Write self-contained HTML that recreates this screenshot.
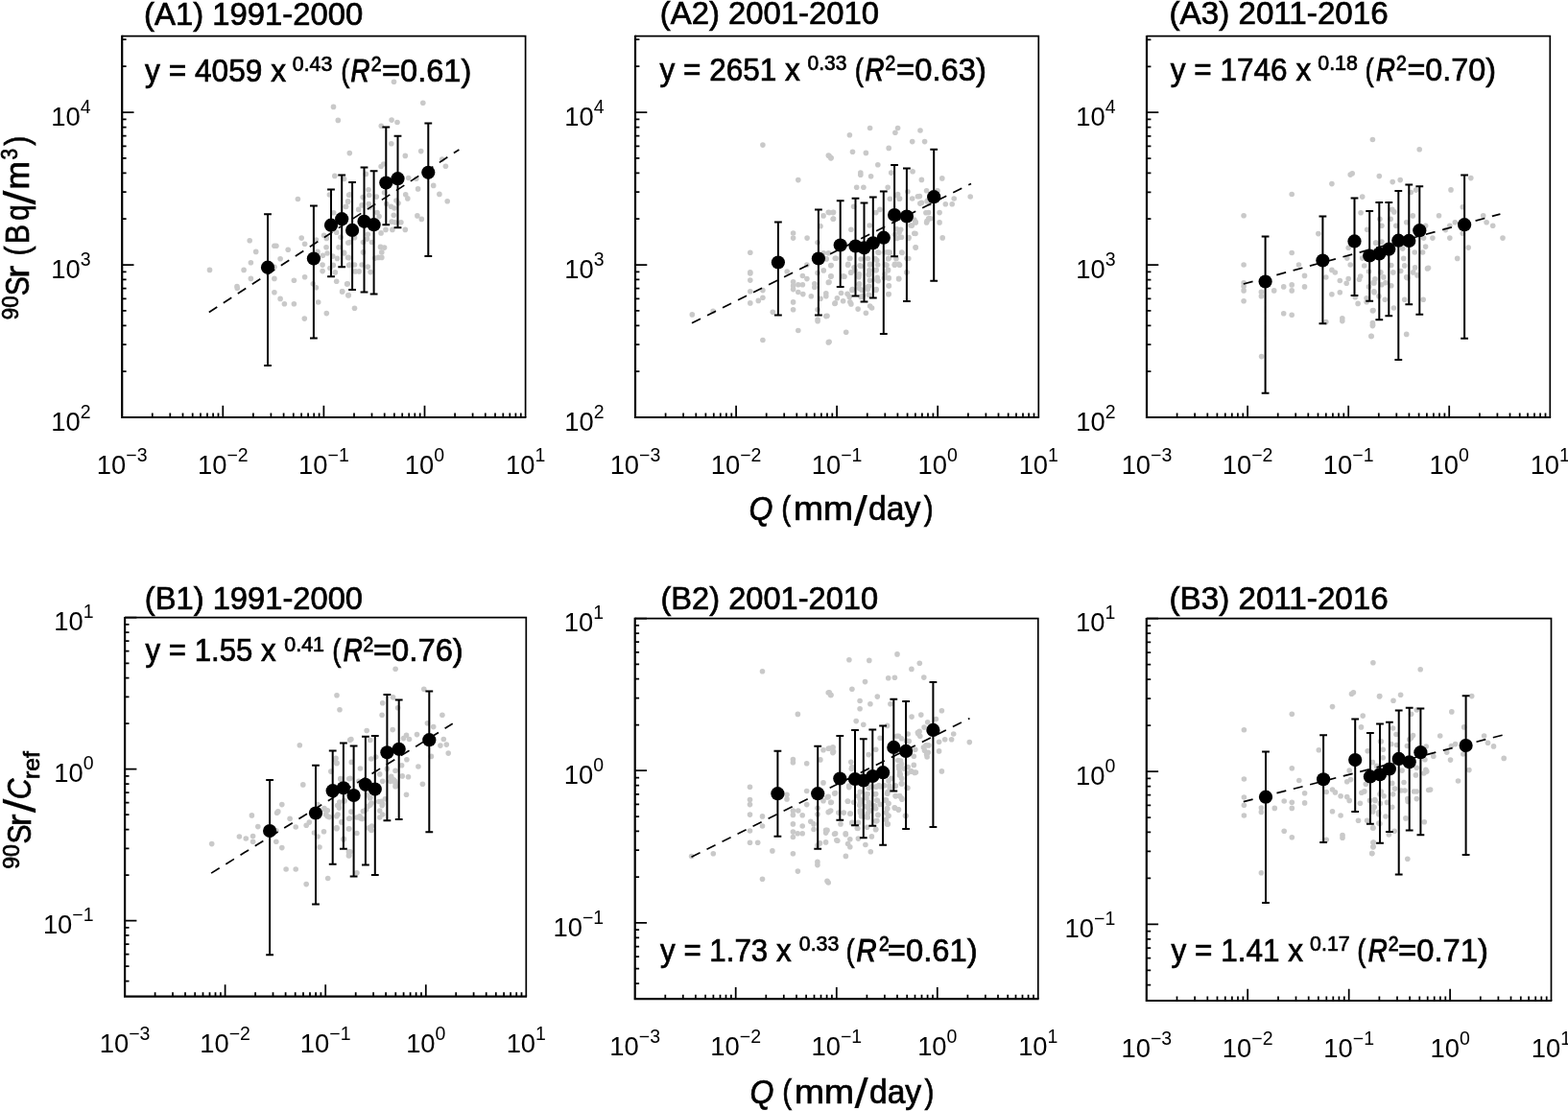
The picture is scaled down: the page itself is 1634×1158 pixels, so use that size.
<!DOCTYPE html><html><head><meta charset="utf-8"><title>Sr-90 vs Q</title><style>html,body{margin:0;padding:0;background:#fff;}svg{display:block;}</style></head><body>
<svg width="1634" height="1158" viewBox="0 0 1634 1158" font-family="'Liberation Sans', Arial, sans-serif">
<rect width="1634" height="1158" fill="#fff"/>
<g fill="#c9c9c9">
<circle cx="410.5" cy="85.3" r="2.8"/><circle cx="347.5" cy="111.4" r="2.8"/><circle cx="440.8" cy="107.3" r="2.8"/><circle cx="352.3" cy="125.4" r="2.8"/><circle cx="408.1" cy="125.1" r="2.8"/><circle cx="414" cy="127.5" r="2.8"/><circle cx="397.3" cy="131.2" r="2.8"/><circle cx="407.8" cy="149.8" r="2.8"/><circle cx="364.3" cy="159.6" r="2.8"/><circle cx="438.7" cy="157.6" r="2.8"/><circle cx="422.3" cy="162.4" r="2.8"/><circle cx="460.7" cy="166.1" r="2.8"/><circle cx="464.4" cy="173.2" r="2.8"/><circle cx="397.1" cy="173.5" r="2.8"/><circle cx="399.8" cy="171" r="2.8"/><circle cx="218.5" cy="281.4" r="2.8"/><circle cx="260.2" cy="250.8" r="2.8"/><circle cx="266.7" cy="262.4" r="2.8"/><circle cx="261.4" cy="273.8" r="2.8"/><circle cx="254.1" cy="281.4" r="2.8"/><circle cx="261.4" cy="290.4" r="2.8"/><circle cx="247" cy="298.5" r="2.8"/><circle cx="247.3" cy="300.5" r="2.8"/><circle cx="285.9" cy="256.2" r="2.8"/><circle cx="287.9" cy="256.2" r="2.8"/><circle cx="292.1" cy="269.7" r="2.8"/><circle cx="300.2" cy="260.2" r="2.8"/><circle cx="285.9" cy="278.3" r="2.8"/><circle cx="285.9" cy="290.4" r="2.8"/><circle cx="285.9" cy="304.7" r="2.8"/><circle cx="292.1" cy="311.4" r="2.8"/><circle cx="296.4" cy="316.8" r="2.8"/><circle cx="306.4" cy="316.8" r="2.8"/><circle cx="306.4" cy="292.3" r="2.8"/><circle cx="310.4" cy="207.5" r="2.8"/><circle cx="314.2" cy="248.1" r="2.8"/><circle cx="317.6" cy="254.3" r="2.8"/><circle cx="317.6" cy="288.8" r="2.8"/><circle cx="317.3" cy="332.1" r="2.8"/><circle cx="326.3" cy="295.8" r="2.8"/><circle cx="329.4" cy="299.7" r="2.8"/><circle cx="331.7" cy="315" r="2.8"/><circle cx="340.3" cy="326.6" r="2.8"/><circle cx="329.4" cy="250" r="2.8"/><circle cx="331" cy="262.4" r="2.8"/><circle cx="336.4" cy="266.3" r="2.8"/><circle cx="336.1" cy="276.1" r="2.8"/><circle cx="336.1" cy="282.6" r="2.8"/><circle cx="337.6" cy="245.3" r="2.8"/><circle cx="340.3" cy="248.4" r="2.8"/><circle cx="340" cy="257.7" r="2.8"/><circle cx="341.1" cy="264" r="2.8"/><circle cx="343.4" cy="203" r="2.8"/><circle cx="347.7" cy="221.7" r="2.8"/><circle cx="348.8" cy="183.4" r="2.8"/><circle cx="358.6" cy="186.5" r="2.8"/><circle cx="350.7" cy="242.2" r="2.8"/><circle cx="355.1" cy="247.2" r="2.8"/><circle cx="353" cy="257.7" r="2.8"/><circle cx="346.8" cy="267.1" r="2.8"/><circle cx="351.5" cy="269.4" r="2.8"/><circle cx="347.3" cy="276.4" r="2.8"/><circle cx="343.9" cy="279.5" r="2.8"/><circle cx="349.3" cy="283.9" r="2.8"/><circle cx="350.7" cy="293.2" r="2.8"/><circle cx="358.6" cy="264" r="2.8"/><circle cx="362.1" cy="295.8" r="2.8"/><circle cx="356.6" cy="303.9" r="2.8"/><circle cx="362.8" cy="307.8" r="2.8"/><circle cx="360.5" cy="215.5" r="2.8"/><circle cx="362.8" cy="210.3" r="2.8"/><circle cx="363.6" cy="203.3" r="2.8"/><circle cx="362.8" cy="253.1" r="2.8"/><circle cx="363.6" cy="268.6" r="2.8"/><circle cx="363.6" cy="276.4" r="2.8"/><circle cx="364.7" cy="202.8" r="2.8"/><circle cx="362.6" cy="209.7" r="2.8"/><circle cx="360.5" cy="215.2" r="2.8"/><circle cx="373.7" cy="218.4" r="2.8"/><circle cx="377.1" cy="213.9" r="2.8"/><circle cx="378.2" cy="205.6" r="2.8"/><circle cx="384" cy="197.7" r="2.8"/><circle cx="384.7" cy="203.5" r="2.8"/><circle cx="384.3" cy="212.5" r="2.8"/><circle cx="385.1" cy="216.2" r="2.8"/><circle cx="392.3" cy="205.1" r="2.8"/><circle cx="393" cy="221.5" r="2.8"/><circle cx="395.1" cy="225.6" r="2.8"/><circle cx="381.3" cy="181.4" r="2.8"/><circle cx="400.6" cy="200.7" r="2.8"/><circle cx="402.7" cy="212.5" r="2.8"/><circle cx="407.5" cy="215.2" r="2.8"/><circle cx="411" cy="217" r="2.8"/><circle cx="410.3" cy="224.2" r="2.8"/><circle cx="408.2" cy="231.1" r="2.8"/><circle cx="411.6" cy="231.8" r="2.8"/><circle cx="417.9" cy="231.8" r="2.8"/><circle cx="408.9" cy="239.4" r="2.8"/><circle cx="402" cy="239.4" r="2.8"/><circle cx="397.1" cy="242.9" r="2.8"/><circle cx="422.3" cy="239.4" r="2.8"/><circle cx="415.1" cy="211.8" r="2.8"/><circle cx="413" cy="209" r="2.8"/><circle cx="422.7" cy="202.8" r="2.8"/><circle cx="424.8" cy="206.9" r="2.8"/><circle cx="425.7" cy="185.5" r="2.8"/><circle cx="435.6" cy="196.9" r="2.8"/><circle cx="434.9" cy="224.9" r="2.8"/><circle cx="439.3" cy="228.4" r="2.8"/><circle cx="451.7" cy="193.4" r="2.8"/><circle cx="457.9" cy="202.4" r="2.8"/><circle cx="466.2" cy="209.7" r="2.8"/><circle cx="433.8" cy="186.2" r="2.8"/><circle cx="383.3" cy="244.2" r="2.8"/><circle cx="382.6" cy="249.1" r="2.8"/><circle cx="369.5" cy="247.7" r="2.8"/><circle cx="364.7" cy="252.5" r="2.8"/><circle cx="378.5" cy="252.5" r="2.8"/><circle cx="387.5" cy="252.5" r="2.8"/><circle cx="396.5" cy="257.4" r="2.8"/><circle cx="400.6" cy="258.1" r="2.8"/><circle cx="397.8" cy="262.9" r="2.8"/><circle cx="378.5" cy="262.9" r="2.8"/><circle cx="358.5" cy="263.3" r="2.8"/><circle cx="362.6" cy="268.4" r="2.8"/><circle cx="390.9" cy="269.1" r="2.8"/><circle cx="397.8" cy="268.4" r="2.8"/><circle cx="394.4" cy="268.4" r="2.8"/><circle cx="364.7" cy="276" r="2.8"/><circle cx="369.5" cy="276" r="2.8"/><circle cx="377.1" cy="276" r="2.8"/><circle cx="383.3" cy="278.1" r="2.8"/><circle cx="386.1" cy="283.6" r="2.8"/><circle cx="374.3" cy="282.9" r="2.8"/><circle cx="370.2" cy="282.9" r="2.8"/><circle cx="361.6" cy="296.1" r="2.8"/><circle cx="356.7" cy="303.7" r="2.8"/><circle cx="363.3" cy="307.8" r="2.8"/><circle cx="369.5" cy="321.2" r="2.8"/>
</g>
<line x1="217.8" y1="325.5" x2="478.4" y2="156" stroke="#000" stroke-width="1.7" stroke-dasharray="10.1,7.8"/>
<path d="M279 223.3V381M275.1 223.3H282.9M275.1 381H282.9M326.9 214.5V352.5M323 214.5H330.8M323 352.5H330.8M345 197.6V288.3M341.1 197.6H348.9M341.1 288.3H348.9M356.2 182.4V278.2M352.3 182.4H360.1M352.3 278.2H360.1M367.1 189.9V302M363.2 189.9H371M363.2 302H371M379.5 174.6V304.6M375.6 174.6H383.4M375.6 304.6H383.4M389.6 178.2V306.4M385.7 178.2H393.5M385.7 306.4H393.5M402.3 132.6V234.2M398.4 132.6H406.2M398.4 234.2H406.2M414.5 141.7V237.3M410.6 141.7H418.4M410.6 237.3H418.4M446.3 128.5V267.1M442.4 128.5H450.2M442.4 267.1H450.2" stroke="#000" stroke-width="2" fill="none"/>
<g fill="#000"><circle cx="279" cy="278.7" r="7.1"/><circle cx="326.9" cy="269.6" r="7.1"/><circle cx="345" cy="234.7" r="7.1"/><circle cx="356.2" cy="228.2" r="7.1"/><circle cx="367.1" cy="239.9" r="7.1"/><circle cx="379.5" cy="230.8" r="7.1"/><circle cx="389.6" cy="234.2" r="7.1"/><circle cx="402.3" cy="190.6" r="7.1"/><circle cx="414.5" cy="186.2" r="7.1"/><circle cx="446.3" cy="179.8" r="7.1"/></g>
<path d="M127.2 37.6H547.6V435" stroke="#000" stroke-width="1.7" fill="none"/>
<path d="M127.2 36.8V435H548.4" stroke="#000" stroke-width="2.2" fill="none"/>
<path d="M158.8 435v-4.4M177.3 435v-4.4M190.5 435v-4.4M200.7 435v-4.4M209 435v-4.4M216 435v-4.4M222.1 435v-4.4M227.5 435v-4.4M232.3 435v-12.3M263.9 435v-4.4M282.4 435v-4.4M295.6 435v-4.4M305.8 435v-4.4M314.1 435v-4.4M321.1 435v-4.4M327.2 435v-4.4M332.6 435v-4.4M337.4 435v-12.3M369 435v-4.4M387.5 435v-4.4M400.7 435v-4.4M410.9 435v-4.4M419.2 435v-4.4M426.2 435v-4.4M432.3 435v-4.4M437.7 435v-4.4M442.5 435v-12.3M474.1 435v-4.4M492.6 435v-4.4M505.8 435v-4.4M516 435v-4.4M524.3 435v-4.4M531.3 435v-4.4M537.4 435v-4.4M542.8 435v-4.4M127.2 387.1h4.4M127.2 359.2h4.4M127.2 339.3h4.4M127.2 323.9h4.4M127.2 311.3h4.4M127.2 300.7h4.4M127.2 291.4h4.4M127.2 283.3h4.4M127.2 276h12.3M127.2 228.2h4.4M127.2 200.2h4.4M127.2 180.3h4.4M127.2 164.9h4.4M127.2 152.3h4.4M127.2 141.7h4.4M127.2 132.5h4.4M127.2 124.4h4.4M127.2 117.1h12.3M127.2 69.2h4.4M127.2 41.2h4.4" stroke="#000" stroke-width="1.75" fill="none"/>
<text x="127.2" y="493.6" font-size="27.4" text-anchor="middle">10<tspan dy="-13" font-size="19.5">−3</tspan></text>
<text x="232.3" y="493.6" font-size="27.4" text-anchor="middle">10<tspan dy="-13" font-size="19.5">−2</tspan></text>
<text x="337.4" y="493.6" font-size="27.4" text-anchor="middle">10<tspan dy="-13" font-size="19.5">−1</tspan></text>
<text x="442.5" y="493.6" font-size="27.4" text-anchor="middle">10<tspan dy="-13" font-size="19.5">0</tspan></text>
<text x="547.6" y="493.6" font-size="27.4" text-anchor="middle">10<tspan dy="-13" font-size="19.5">1</tspan></text>
<text x="94.7" y="448.7" font-size="27.4" text-anchor="end">10<tspan dy="-13" font-size="19.5">2</tspan></text>
<text x="94.7" y="289.7" font-size="27.4" text-anchor="end">10<tspan dy="-13" font-size="19.5">3</tspan></text>
<text x="94.7" y="130.8" font-size="27.4" text-anchor="end">10<tspan dy="-13" font-size="19.5">4</tspan></text>
<g fill="#c9c9c9">
<circle cx="794.9" cy="151.1" r="2.8"/><circle cx="863.3" cy="162.1" r="2.8"/><circle cx="865.8" cy="164.8" r="2.8"/><circle cx="831.8" cy="187.6" r="2.8"/><circle cx="781.8" cy="263.3" r="2.8"/><circle cx="781.8" cy="283.8" r="2.8"/><circle cx="781.8" cy="285" r="2.8"/><circle cx="781.8" cy="292.1" r="2.8"/><circle cx="781.8" cy="303.7" r="2.8"/><circle cx="781.8" cy="315.9" r="2.8"/><circle cx="743.1" cy="324.4" r="2.8"/><circle cx="721.3" cy="327.9" r="2.8"/><circle cx="790.3" cy="313.4" r="2.8"/><circle cx="794.9" cy="310.3" r="2.8"/><circle cx="794.9" cy="302.6" r="2.8"/><circle cx="805.3" cy="325.2" r="2.8"/><circle cx="794.9" cy="354.5" r="2.8"/><circle cx="826.6" cy="243" r="2.8"/><circle cx="826.6" cy="248.1" r="2.8"/><circle cx="841.1" cy="248.1" r="2.8"/><circle cx="820.2" cy="283" r="2.8"/><circle cx="826.6" cy="293.7" r="2.8"/><circle cx="826.6" cy="297.9" r="2.8"/><circle cx="826.6" cy="301.6" r="2.8"/><circle cx="831.8" cy="296.8" r="2.8"/><circle cx="836.4" cy="296.8" r="2.8"/><circle cx="836.4" cy="287.5" r="2.8"/><circle cx="840.9" cy="290.6" r="2.8"/><circle cx="831.8" cy="304.5" r="2.8"/><circle cx="836.8" cy="306.6" r="2.8"/><circle cx="826.6" cy="314.9" r="2.8"/><circle cx="826.6" cy="322.7" r="2.8"/><circle cx="831.8" cy="344.5" r="2.8"/><circle cx="845.3" cy="308.7" r="2.8"/><circle cx="848.8" cy="295.8" r="2.8"/><circle cx="848.8" cy="299.5" r="2.8"/><circle cx="852.1" cy="252.7" r="2.8"/><circle cx="852.1" cy="284.4" r="2.8"/><circle cx="852.1" cy="322.7" r="2.8"/><circle cx="852.1" cy="333.1" r="2.8"/><circle cx="852.1" cy="334.8" r="2.8"/><circle cx="855" cy="235.7" r="2.8"/><circle cx="858.1" cy="224.9" r="2.8"/><circle cx="863.3" cy="221.2" r="2.8"/><circle cx="868.5" cy="221.2" r="2.8"/><circle cx="868.5" cy="228" r="2.8"/><circle cx="858.3" cy="263.7" r="2.8"/><circle cx="863.3" cy="263.7" r="2.8"/><circle cx="861.2" cy="269.9" r="2.8"/><circle cx="865.8" cy="276.7" r="2.8"/><circle cx="858.3" cy="281.9" r="2.8"/><circle cx="865.8" cy="288.1" r="2.8"/><circle cx="863.3" cy="294.4" r="2.8"/><circle cx="860.8" cy="305.8" r="2.8"/><circle cx="860.8" cy="308.7" r="2.8"/><circle cx="855" cy="311.3" r="2.8"/><circle cx="860.8" cy="329.6" r="2.8"/><circle cx="863.3" cy="356.9" r="2.8"/><circle cx="871.2" cy="269.3" r="2.8"/><circle cx="869.9" cy="316.5" r="2.8"/><circle cx="840.9" cy="276.1" r="2.8"/><circle cx="906.6" cy="133.5" r="2.8"/><circle cx="935.6" cy="133.5" r="2.8"/><circle cx="932.9" cy="138.2" r="2.8"/><circle cx="959" cy="136" r="2.8"/><circle cx="885.4" cy="140.7" r="2.8"/><circle cx="950.7" cy="147.6" r="2.8"/><circle cx="963.6" cy="147.6" r="2.8"/><circle cx="926.2" cy="154.4" r="2.8"/><circle cx="888.5" cy="158.3" r="2.8"/><circle cx="902.4" cy="159.4" r="2.8"/><circle cx="864.1" cy="162.5" r="2.8"/><circle cx="866.1" cy="164.6" r="2.8"/><circle cx="914.8" cy="171.8" r="2.8"/><circle cx="896.8" cy="180.1" r="2.8"/><circle cx="896.8" cy="182.2" r="2.8"/><circle cx="907.6" cy="183.8" r="2.8"/><circle cx="928.7" cy="180.1" r="2.8"/><circle cx="951.1" cy="178.7" r="2.8"/><circle cx="960.4" cy="187.4" r="2.8"/><circle cx="981.8" cy="185.9" r="2.8"/><circle cx="892.7" cy="195.2" r="2.8"/><circle cx="899.9" cy="195.2" r="2.8"/><circle cx="925.2" cy="195.2" r="2.8"/><circle cx="935.6" cy="202.5" r="2.8"/><circle cx="945.9" cy="199.8" r="2.8"/><circle cx="937.6" cy="207" r="2.8"/><circle cx="950.7" cy="207" r="2.8"/><circle cx="958.4" cy="204.6" r="2.8"/><circle cx="965.6" cy="198.8" r="2.8"/><circle cx="966.7" cy="209.1" r="2.8"/><circle cx="960.4" cy="211.2" r="2.8"/><circle cx="977" cy="198.8" r="2.8"/><circle cx="985.3" cy="212.8" r="2.8"/><circle cx="992.2" cy="212.8" r="2.8"/><circle cx="994.2" cy="207" r="2.8"/><circle cx="1011.2" cy="205" r="2.8"/><circle cx="864.1" cy="221.6" r="2.8"/><circle cx="868.2" cy="221.6" r="2.8"/><circle cx="868.2" cy="228.2" r="2.8"/><circle cx="889.6" cy="215.3" r="2.8"/><circle cx="916.9" cy="218.4" r="2.8"/><circle cx="912.8" cy="221.6" r="2.8"/><circle cx="967.7" cy="221.6" r="2.8"/><circle cx="979.1" cy="221.6" r="2.8"/><circle cx="967.7" cy="227.8" r="2.8"/><circle cx="965.6" cy="231.9" r="2.8"/><circle cx="979.1" cy="231.9" r="2.8"/><circle cx="954.2" cy="231.9" r="2.8"/><circle cx="949" cy="235" r="2.8"/><circle cx="886.9" cy="239.2" r="2.8"/><circle cx="906.1" cy="235" r="2.8"/><circle cx="938.7" cy="239.2" r="2.8"/><circle cx="932.5" cy="244.4" r="2.8"/><circle cx="937.6" cy="247.5" r="2.8"/><circle cx="947" cy="247.5" r="2.8"/><circle cx="952.8" cy="243.3" r="2.8"/><circle cx="982.2" cy="247.9" r="2.8"/><circle cx="954.2" cy="257.8" r="2.8"/><circle cx="939.7" cy="263" r="2.8"/><circle cx="944.9" cy="269.2" r="2.8"/><circle cx="927.3" cy="263" r="2.8"/><circle cx="922.1" cy="263" r="2.8"/><circle cx="914.8" cy="263" r="2.8"/><circle cx="926.2" cy="269.2" r="2.8"/><circle cx="932.5" cy="275.4" r="2.8"/><circle cx="936.6" cy="275.4" r="2.8"/><circle cx="944.9" cy="283.7" r="2.8"/><circle cx="936.6" cy="290.4" r="2.8"/><circle cx="925.2" cy="281.7" r="2.8"/><circle cx="922.1" cy="285.8" r="2.8"/><circle cx="926.2" cy="289.9" r="2.8"/><circle cx="926.2" cy="297.8" r="2.8"/><circle cx="926.2" cy="306.5" r="2.8"/><circle cx="913.8" cy="271.3" r="2.8"/><circle cx="906.6" cy="275.4" r="2.8"/><circle cx="912.8" cy="281.7" r="2.8"/><circle cx="905.5" cy="285.8" r="2.8"/><circle cx="913.8" cy="292" r="2.8"/><circle cx="905.5" cy="298.2" r="2.8"/><circle cx="912.8" cy="302.4" r="2.8"/><circle cx="897.2" cy="277.5" r="2.8"/><circle cx="895.2" cy="285.8" r="2.8"/><circle cx="895.2" cy="296.2" r="2.8"/><circle cx="898.3" cy="302.4" r="2.8"/><circle cx="891" cy="281.7" r="2.8"/><circle cx="886.9" cy="283.7" r="2.8"/><circle cx="883.8" cy="275.4" r="2.8"/><circle cx="885.8" cy="269.2" r="2.8"/><circle cx="870.3" cy="269.2" r="2.8"/><circle cx="866.1" cy="276.5" r="2.8"/><circle cx="866.1" cy="287.9" r="2.8"/><circle cx="878.6" cy="287.9" r="2.8"/><circle cx="864.1" cy="294.1" r="2.8"/><circle cx="887.9" cy="302.4" r="2.8"/><circle cx="876.5" cy="305.5" r="2.8"/><circle cx="872.4" cy="310.7" r="2.8"/><circle cx="878.6" cy="313.8" r="2.8"/><circle cx="870.3" cy="315.9" r="2.8"/><circle cx="885.8" cy="314.8" r="2.8"/><circle cx="886.9" cy="316.9" r="2.8"/><circle cx="894.1" cy="322.1" r="2.8"/><circle cx="902.4" cy="326.2" r="2.8"/><circle cx="906.6" cy="319" r="2.8"/><circle cx="908.6" cy="321" r="2.8"/><circle cx="899.3" cy="308.6" r="2.8"/><circle cx="881.7" cy="346.3" r="2.8"/><circle cx="864.1" cy="356.3" r="2.8"/><circle cx="862" cy="329.3" r="2.8"/><circle cx="885.4" cy="269.5" r="2.8"/><circle cx="883.6" cy="276.2" r="2.8"/><circle cx="886.7" cy="284.3" r="2.8"/><circle cx="880" cy="288.2" r="2.8"/><circle cx="888.3" cy="301.6" r="2.8"/><circle cx="883.1" cy="306.3" r="2.8"/><circle cx="885.2" cy="309.4" r="2.8"/><circle cx="890.1" cy="278.8" r="2.8"/><circle cx="896.1" cy="276.8" r="2.8"/><circle cx="897.1" cy="270" r="2.8"/><circle cx="895.5" cy="286.1" r="2.8"/><circle cx="895" cy="288.7" r="2.8"/><circle cx="895.5" cy="295.9" r="2.8"/><circle cx="895.5" cy="300.6" r="2.8"/><circle cx="897.1" cy="309.4" r="2.8"/><circle cx="904.4" cy="269.5" r="2.8"/><circle cx="906.4" cy="276" r="2.8"/><circle cx="905.9" cy="281.9" r="2.8"/><circle cx="905.4" cy="286.6" r="2.8"/><circle cx="906.4" cy="292.3" r="2.8"/><circle cx="904.4" cy="299" r="2.8"/><circle cx="904.4" cy="301.6" r="2.8"/><circle cx="905.4" cy="307.3" r="2.8"/><circle cx="912.1" cy="269.5" r="2.8"/><circle cx="914.7" cy="276" r="2.8"/><circle cx="913.2" cy="281.4" r="2.8"/><circle cx="914.2" cy="289.2" r="2.8"/><circle cx="915.2" cy="292.8" r="2.8"/><circle cx="913.2" cy="301.6" r="2.8"/><circle cx="915.8" cy="263.3" r="2.8"/><circle cx="925.1" cy="262.8" r="2.8"/><circle cx="926.6" cy="263.5" r="2.8"/><circle cx="940.1" cy="263.5" r="2.8"/><circle cx="925.6" cy="269.8" r="2.8"/><circle cx="933.9" cy="269.8" r="2.8"/><circle cx="932.3" cy="276.2" r="2.8"/><circle cx="937.5" cy="276.2" r="2.8"/><circle cx="924" cy="276.2" r="2.8"/><circle cx="925.6" cy="281.4" r="2.8"/><circle cx="926.1" cy="289.7" r="2.8"/><circle cx="936.7" cy="290.8" r="2.8"/><circle cx="926.4" cy="298" r="2.8"/><circle cx="925.9" cy="306.8" r="2.8"/><circle cx="944.8" cy="284" r="2.8"/><circle cx="946.8" cy="269.5" r="2.8"/><circle cx="954.1" cy="258.1" r="2.8"/><circle cx="921.5" cy="289.7" r="2.8"/><circle cx="922.5" cy="275.7" r="2.8"/><circle cx="934.6" cy="238.7" r="2.8"/><circle cx="937.1" cy="242.3" r="2.8"/><circle cx="934.6" cy="248.4" r="2.8"/><circle cx="939.5" cy="247.2" r="2.8"/><circle cx="946.7" cy="248.4" r="2.8"/><circle cx="950.4" cy="235.1" r="2.8"/><circle cx="952.8" cy="229" r="2.8"/><circle cx="954" cy="231.4" r="2.8"/><circle cx="954" cy="243.5" r="2.8"/><circle cx="927.4" cy="207.3" r="2.8"/><circle cx="937.1" cy="207.3" r="2.8"/><circle cx="934.6" cy="203.6" r="2.8"/><circle cx="956.4" cy="204.8" r="2.8"/><circle cx="958.8" cy="212.1" r="2.8"/><circle cx="966.1" cy="209.7" r="2.8"/><circle cx="968.5" cy="212.1" r="2.8"/><circle cx="964.9" cy="221.8" r="2.8"/><circle cx="966.1" cy="230.2" r="2.8"/><circle cx="969.7" cy="227.8" r="2.8"/>
</g>
<line x1="721" y1="336.7" x2="1012" y2="191.4" stroke="#000" stroke-width="1.7" stroke-dasharray="10.1,7.8"/>
<path d="M810.9 231.5V328.6M807 231.5H814.8M807 328.6H814.8M852.9 218.4V328.6M849 218.4H856.8M849 328.6H856.8M875.7 209.2V299.1M871.8 209.2H879.6M871.8 299.1H879.6M891.5 206.7V308.6M887.6 206.7H895.4M887.6 308.6H895.4M900.5 211.4V314.4M896.6 211.4H904.4M896.6 314.4H904.4M909.8 205.4V310.4M905.9 205.4H913.7M905.9 310.4H913.7M920.8 199.4V347.9M916.9 199.4H924.7M916.9 347.9H924.7M932.1 172.1V267.3M928.2 172.1H936M928.2 267.3H936M944.9 175.6V313.9M941 175.6H948.8M941 313.9H948.8M973.2 155.8V292.8M969.3 155.8H977.1M969.3 292.8H977.1" stroke="#000" stroke-width="2" fill="none"/>
<g fill="#000"><circle cx="810.9" cy="273.5" r="7.1"/><circle cx="852.9" cy="269.5" r="7.1"/><circle cx="875.7" cy="255.5" r="7.1"/><circle cx="891.5" cy="256.5" r="7.1"/><circle cx="900.5" cy="258.3" r="7.1"/><circle cx="909.8" cy="253.3" r="7.1"/><circle cx="920.8" cy="247.7" r="7.1"/><circle cx="932.1" cy="224" r="7.1"/><circle cx="944.9" cy="225.5" r="7.1"/><circle cx="973.2" cy="205.2" r="7.1"/></g>
<path d="M662 37.6H1082.3V435" stroke="#000" stroke-width="1.7" fill="none"/>
<path d="M662 36.8V435H1083.1" stroke="#000" stroke-width="2.2" fill="none"/>
<path d="M693.6 435v-4.4M712.1 435v-4.4M725.3 435v-4.4M735.4 435v-4.4M743.8 435v-4.4M750.8 435v-4.4M756.9 435v-4.4M762.3 435v-4.4M767.1 435v-12.3M798.7 435v-4.4M817.2 435v-4.4M830.3 435v-4.4M840.5 435v-4.4M848.8 435v-4.4M855.9 435v-4.4M862 435v-4.4M867.3 435v-4.4M872.1 435v-12.3M903.8 435v-4.4M922.3 435v-4.4M935.4 435v-4.4M945.6 435v-4.4M953.9 435v-4.4M960.9 435v-4.4M967 435v-4.4M972.4 435v-4.4M977.2 435v-12.3M1008.9 435v-4.4M1027.4 435v-4.4M1040.5 435v-4.4M1050.7 435v-4.4M1059 435v-4.4M1066 435v-4.4M1072.1 435v-4.4M1077.5 435v-4.4M662 387.1h4.4M662 359.2h4.4M662 339.3h4.4M662 323.9h4.4M662 311.3h4.4M662 300.7h4.4M662 291.4h4.4M662 283.3h4.4M662 276h12.3M662 228.2h4.4M662 200.2h4.4M662 180.3h4.4M662 164.9h4.4M662 152.3h4.4M662 141.7h4.4M662 132.5h4.4M662 124.4h4.4M662 117.1h12.3M662 69.2h4.4M662 41.2h4.4" stroke="#000" stroke-width="1.75" fill="none"/>
<text x="662" y="493.6" font-size="27.4" text-anchor="middle">10<tspan dy="-13" font-size="19.5">−3</tspan></text>
<text x="767.1" y="493.6" font-size="27.4" text-anchor="middle">10<tspan dy="-13" font-size="19.5">−2</tspan></text>
<text x="872.1" y="493.6" font-size="27.4" text-anchor="middle">10<tspan dy="-13" font-size="19.5">−1</tspan></text>
<text x="977.2" y="493.6" font-size="27.4" text-anchor="middle">10<tspan dy="-13" font-size="19.5">0</tspan></text>
<text x="1082.3" y="493.6" font-size="27.4" text-anchor="middle">10<tspan dy="-13" font-size="19.5">1</tspan></text>
<text x="629.5" y="448.7" font-size="27.4" text-anchor="end">10<tspan dy="-13" font-size="19.5">2</tspan></text>
<text x="629.5" y="289.7" font-size="27.4" text-anchor="end">10<tspan dy="-13" font-size="19.5">3</tspan></text>
<text x="629.5" y="130.8" font-size="27.4" text-anchor="end">10<tspan dy="-13" font-size="19.5">4</tspan></text>
<g fill="#c9c9c9">
<circle cx="1430.4" cy="145.5" r="2.8"/><circle cx="1409.2" cy="180.7" r="2.8"/><circle cx="1407.2" cy="182.1" r="2.8"/><circle cx="1387.9" cy="191.6" r="2.8"/><circle cx="1346.2" cy="202.5" r="2.8"/><circle cx="1419.7" cy="205.1" r="2.8"/><circle cx="1296.1" cy="224.8" r="2.8"/><circle cx="1418.1" cy="221.8" r="2.8"/><circle cx="1373.8" cy="243.6" r="2.8"/><circle cx="1424.7" cy="239.3" r="2.8"/><circle cx="1346.2" cy="263.5" r="2.8"/><circle cx="1296.1" cy="276" r="2.8"/><circle cx="1353.5" cy="276" r="2.8"/><circle cx="1359.5" cy="287.4" r="2.8"/><circle cx="1359.5" cy="298.9" r="2.8"/><circle cx="1296.1" cy="294.9" r="2.8"/><circle cx="1296.1" cy="298.5" r="2.8"/><circle cx="1296.1" cy="302.9" r="2.8"/><circle cx="1296.1" cy="313.8" r="2.8"/><circle cx="1314.4" cy="304.4" r="2.8"/><circle cx="1314.4" cy="308.8" r="2.8"/><circle cx="1327.7" cy="302.9" r="2.8"/><circle cx="1337.7" cy="298.9" r="2.8"/><circle cx="1346.2" cy="296.9" r="2.8"/><circle cx="1346.2" cy="302.9" r="2.8"/><circle cx="1337.7" cy="326.7" r="2.8"/><circle cx="1346.2" cy="328.3" r="2.8"/><circle cx="1381.8" cy="289" r="2.8"/><circle cx="1387.9" cy="281.4" r="2.8"/><circle cx="1391.3" cy="284" r="2.8"/><circle cx="1396.3" cy="292.5" r="2.8"/><circle cx="1396.3" cy="304.8" r="2.8"/><circle cx="1387.9" cy="306.8" r="2.8"/><circle cx="1381.8" cy="335.6" r="2.8"/><circle cx="1398.8" cy="331.7" r="2.8"/><circle cx="1398.8" cy="334.6" r="2.8"/><circle cx="1403.2" cy="295.3" r="2.8"/><circle cx="1405.2" cy="290.5" r="2.8"/><circle cx="1405.2" cy="258.2" r="2.8"/><circle cx="1403.8" cy="269.1" r="2.8"/><circle cx="1407.2" cy="276" r="2.8"/><circle cx="1412.2" cy="309.8" r="2.8"/><circle cx="1415.1" cy="316.4" r="2.8"/><circle cx="1416.5" cy="291.3" r="2.8"/><circle cx="1417.7" cy="288" r="2.8"/><circle cx="1419.7" cy="269.1" r="2.8"/><circle cx="1421.7" cy="277" r="2.8"/><circle cx="1424.1" cy="314.8" r="2.8"/><circle cx="1426.5" cy="283" r="2.8"/><circle cx="1426.5" cy="298.9" r="2.8"/><circle cx="1432" cy="294.9" r="2.8"/><circle cx="1432" cy="304.8" r="2.8"/><circle cx="1430.4" cy="323.7" r="2.8"/><circle cx="1430.4" cy="336.6" r="2.8"/><circle cx="1430.4" cy="339.6" r="2.8"/><circle cx="1429" cy="350.5" r="2.8"/><circle cx="1433.6" cy="253.2" r="2.8"/><circle cx="1424.1" cy="310.8" r="2.8"/><circle cx="1479.2" cy="155.8" r="2.8"/><circle cx="1437.3" cy="183.6" r="2.8"/><circle cx="1451.2" cy="189.6" r="2.8"/><circle cx="1459.2" cy="187.6" r="2.8"/><circle cx="1470.3" cy="200.5" r="2.8"/><circle cx="1475.6" cy="198.1" r="2.8"/><circle cx="1512" cy="197.9" r="2.8"/><circle cx="1532.8" cy="185.6" r="2.8"/><circle cx="1524.3" cy="215.8" r="2.8"/><circle cx="1499.5" cy="224.7" r="2.8"/><circle cx="1545.7" cy="224.7" r="2.8"/><circle cx="1549.1" cy="231.7" r="2.8"/><circle cx="1555.7" cy="235.2" r="2.8"/><circle cx="1566" cy="248.1" r="2.8"/><circle cx="1516.3" cy="231.7" r="2.8"/><circle cx="1510.8" cy="235.2" r="2.8"/><circle cx="1506.4" cy="239.6" r="2.8"/><circle cx="1510.8" cy="248.1" r="2.8"/><circle cx="1524.3" cy="243.2" r="2.8"/><circle cx="1530.2" cy="258.1" r="2.8"/><circle cx="1518.7" cy="269.4" r="2.8"/><circle cx="1492.9" cy="248.1" r="2.8"/><circle cx="1485.6" cy="235.2" r="2.8"/><circle cx="1485.6" cy="257.1" r="2.8"/><circle cx="1483.6" cy="248.1" r="2.8"/><circle cx="1482.6" cy="263" r="2.8"/><circle cx="1472.3" cy="224.9" r="2.8"/><circle cx="1465.7" cy="231.7" r="2.8"/><circle cx="1454.8" cy="235.2" r="2.8"/><circle cx="1450.8" cy="218.4" r="2.8"/><circle cx="1452.8" cy="220.9" r="2.8"/><circle cx="1449.2" cy="228.3" r="2.8"/><circle cx="1439.9" cy="235.2" r="2.8"/><circle cx="1437.9" cy="228.3" r="2.8"/><circle cx="1433.9" cy="253.1" r="2.8"/><circle cx="1439.9" cy="252.1" r="2.8"/><circle cx="1461.7" cy="259.1" r="2.8"/><circle cx="1474.2" cy="263" r="2.8"/><circle cx="1462.7" cy="269.4" r="2.8"/><circle cx="1463.7" cy="276.9" r="2.8"/><circle cx="1459.7" cy="282.5" r="2.8"/><circle cx="1449.8" cy="276.5" r="2.8"/><circle cx="1451.8" cy="283.9" r="2.8"/><circle cx="1474.6" cy="278.9" r="2.8"/><circle cx="1472.7" cy="283.9" r="2.8"/><circle cx="1477" cy="286.9" r="2.8"/><circle cx="1487.5" cy="279.9" r="2.8"/><circle cx="1488.5" cy="279.3" r="2.8"/><circle cx="1465.7" cy="288.9" r="2.8"/><circle cx="1466.7" cy="289.8" r="2.8"/><circle cx="1438.9" cy="283.9" r="2.8"/><circle cx="1432.9" cy="290.8" r="2.8"/><circle cx="1441.9" cy="288.9" r="2.8"/><circle cx="1443.9" cy="294.8" r="2.8"/><circle cx="1431" cy="294.8" r="2.8"/><circle cx="1449.8" cy="297.8" r="2.8"/><circle cx="1439.9" cy="296.8" r="2.8"/><circle cx="1431.9" cy="303.7" r="2.8"/><circle cx="1436.9" cy="308.7" r="2.8"/><circle cx="1443.3" cy="312.3" r="2.8"/><circle cx="1463.7" cy="312.3" r="2.8"/><circle cx="1483.2" cy="312.3" r="2.8"/><circle cx="1452.4" cy="321" r="2.8"/><circle cx="1431" cy="323.6" r="2.8"/><circle cx="1430.6" cy="338.5" r="2.8"/><circle cx="1429" cy="350.4" r="2.8"/><circle cx="1465.7" cy="348.4" r="2.8"/><circle cx="1314.6" cy="371.6" r="2.8"/>
</g>
<line x1="1295.8" y1="296" x2="1563.4" y2="223.1" stroke="#000" stroke-width="1.7" stroke-dasharray="10.1,7.8"/>
<path d="M1318.6 246.4V409.7M1314.7 246.4H1322.5M1314.7 409.7H1322.5M1378.4 225.6V337.3M1374.5 225.6H1382.3M1374.5 337.3H1382.3M1411.5 206.6V308M1407.6 206.6H1415.4M1407.6 308H1415.4M1427.2 219.9V313.8M1423.3 219.9H1431.1M1423.3 313.8H1431.1M1437.3 210.9V333.3M1433.4 210.9H1441.2M1433.4 333.3H1441.2M1447.3 210.9V329.3M1443.4 210.9H1451.2M1443.4 329.3H1451.2M1457.3 199.1V374.9M1453.4 199.1H1461.2M1453.4 374.9H1461.2M1468.3 192.6V317.3M1464.4 192.6H1472.2M1464.4 317.3H1472.2M1479.3 194.3V327.8M1475.4 194.3H1483.2M1475.4 327.8H1483.2M1526.1 182.6V352.8M1522.2 182.6H1530M1522.2 352.8H1530" stroke="#000" stroke-width="2" fill="none"/>
<g fill="#000"><circle cx="1318.6" cy="293.5" r="7.1"/><circle cx="1378.4" cy="271.5" r="7.1"/><circle cx="1411.5" cy="251.4" r="7.1"/><circle cx="1427.2" cy="266.5" r="7.1"/><circle cx="1437.3" cy="264.5" r="7.1"/><circle cx="1447.3" cy="259.7" r="7.1"/><circle cx="1457.3" cy="250.7" r="7.1"/><circle cx="1468.3" cy="250.9" r="7.1"/><circle cx="1479.3" cy="240.2" r="7.1"/><circle cx="1526.1" cy="234.2" r="7.1"/></g>
<path d="M1195 37.7H1615.3V435" stroke="#000" stroke-width="1.7" fill="none"/>
<path d="M1195 36.9V435H1616.1" stroke="#000" stroke-width="2.2" fill="none"/>
<path d="M1226.6 435v-4.4M1245.1 435v-4.4M1258.3 435v-4.4M1268.4 435v-4.4M1276.8 435v-4.4M1283.8 435v-4.4M1289.9 435v-4.4M1295.3 435v-4.4M1300.1 435v-12.3M1331.7 435v-4.4M1350.2 435v-4.4M1363.3 435v-4.4M1373.5 435v-4.4M1381.8 435v-4.4M1388.9 435v-4.4M1395 435v-4.4M1400.3 435v-4.4M1405.2 435v-12.3M1436.8 435v-4.4M1455.3 435v-4.4M1468.4 435v-4.4M1478.6 435v-4.4M1486.9 435v-4.4M1493.9 435v-4.4M1500 435v-4.4M1505.4 435v-4.4M1510.2 435v-12.3M1541.9 435v-4.4M1560.4 435v-4.4M1573.5 435v-4.4M1583.7 435v-4.4M1592 435v-4.4M1599 435v-4.4M1605.1 435v-4.4M1610.5 435v-4.4M1195 387.2h4.4M1195 359.2h4.4M1195 339.3h4.4M1195 323.9h4.4M1195 311.3h4.4M1195 300.7h4.4M1195 291.5h4.4M1195 283.4h4.4M1195 276.1h12.3M1195 228.2h4.4M1195 200.3h4.4M1195 180.4h4.4M1195 165h4.4M1195 152.4h4.4M1195 141.8h4.4M1195 132.6h4.4M1195 124.4h4.4M1195 117.2h12.3M1195 69.3h4.4M1195 41.3h4.4" stroke="#000" stroke-width="1.75" fill="none"/>
<text x="1195" y="493.6" font-size="27.4" text-anchor="middle">10<tspan dy="-13" font-size="19.5">−3</tspan></text>
<text x="1300.1" y="493.6" font-size="27.4" text-anchor="middle">10<tspan dy="-13" font-size="19.5">−2</tspan></text>
<text x="1405.2" y="493.6" font-size="27.4" text-anchor="middle">10<tspan dy="-13" font-size="19.5">−1</tspan></text>
<text x="1510.2" y="493.6" font-size="27.4" text-anchor="middle">10<tspan dy="-13" font-size="19.5">0</tspan></text>
<text x="1615.3" y="493.6" font-size="27.4" text-anchor="middle">10<tspan dy="-13" font-size="19.5">1</tspan></text>
<text x="1162.5" y="448.7" font-size="27.4" text-anchor="end">10<tspan dy="-13" font-size="19.5">2</tspan></text>
<text x="1162.5" y="289.8" font-size="27.4" text-anchor="end">10<tspan dy="-13" font-size="19.5">3</tspan></text>
<text x="1162.5" y="130.9" font-size="27.4" text-anchor="end">10<tspan dy="-13" font-size="19.5">4</tspan></text>
<g fill="#c9c9c9">
<circle cx="220.7" cy="879.6" r="2.8"/><circle cx="249.4" cy="872" r="2.8"/><circle cx="256.3" cy="874" r="2.8"/><circle cx="263.6" cy="871.5" r="2.8"/><circle cx="263.6" cy="877.2" r="2.8"/><circle cx="262.4" cy="849.9" r="2.8"/><circle cx="268.8" cy="861.6" r="2.8"/><circle cx="287.8" cy="865.8" r="2.8"/><circle cx="287.8" cy="877.2" r="2.8"/><circle cx="293.8" cy="883.6" r="2.8"/><circle cx="288.6" cy="847.3" r="2.8"/><circle cx="289.8" cy="845.9" r="2.8"/><circle cx="293.8" cy="838.6" r="2.8"/><circle cx="302.1" cy="853.3" r="2.8"/><circle cx="308.2" cy="862" r="2.8"/><circle cx="298.1" cy="906" r="2.8"/><circle cx="308.2" cy="906" r="2.8"/><circle cx="312.3" cy="776.8" r="2.8"/><circle cx="315.8" cy="817.9" r="2.8"/><circle cx="319.2" cy="860.2" r="2.8"/><circle cx="322.3" cy="857.1" r="2.8"/><circle cx="319.2" cy="921.6" r="2.8"/><circle cx="327.5" cy="868" r="2.8"/><circle cx="331" cy="872" r="2.8"/><circle cx="333" cy="883" r="2.8"/><circle cx="331" cy="838.6" r="2.8"/><circle cx="337.9" cy="842.6" r="2.8"/><circle cx="341.3" cy="844.7" r="2.8"/><circle cx="339.6" cy="849" r="2.8"/><circle cx="343.1" cy="851.6" r="2.8"/><circle cx="337.5" cy="866.8" r="2.8"/><circle cx="341.7" cy="915.5" r="2.8"/><circle cx="344.8" cy="804.1" r="2.8"/><circle cx="349.1" cy="792" r="2.8"/><circle cx="350.8" cy="795.4" r="2.8"/><circle cx="354.8" cy="811.5" r="2.8"/><circle cx="351.7" cy="839.5" r="2.8"/><circle cx="353.4" cy="842.1" r="2.8"/><circle cx="350.8" cy="850.7" r="2.8"/><circle cx="356" cy="856.8" r="2.8"/><circle cx="350.8" cy="863.7" r="2.8"/><circle cx="358.3" cy="874.4" r="2.8"/><circle cx="363.8" cy="863.7" r="2.8"/><circle cx="363.8" cy="853.3" r="2.8"/><circle cx="363.8" cy="811.8" r="2.8"/><circle cx="364.7" cy="771.2" r="2.8"/><circle cx="363.4" cy="887.9" r="2.8"/><circle cx="363.4" cy="891.7" r="2.8"/><circle cx="353.8" cy="836" r="2.8"/><circle cx="358.6" cy="834.3" r="2.8"/><circle cx="441.8" cy="718.3" r="2.8"/><circle cx="398.7" cy="732.8" r="2.8"/><circle cx="409.6" cy="726.8" r="2.8"/><circle cx="414.6" cy="737.8" r="2.8"/><circle cx="398.1" cy="745.3" r="2.8"/><circle cx="354" cy="739.7" r="2.8"/><circle cx="351" cy="724.8" r="2.8"/><circle cx="460.9" cy="745.3" r="2.8"/><circle cx="445.4" cy="753.7" r="2.8"/><circle cx="451.7" cy="757.6" r="2.8"/><circle cx="382.2" cy="761.6" r="2.8"/><circle cx="409.2" cy="760.6" r="2.8"/><circle cx="423.5" cy="766.2" r="2.8"/><circle cx="420.5" cy="769.6" r="2.8"/><circle cx="426.5" cy="770.5" r="2.8"/><circle cx="434.5" cy="765.6" r="2.8"/><circle cx="462.3" cy="770.5" r="2.8"/><circle cx="465.3" cy="776.1" r="2.8"/><circle cx="458.9" cy="777.1" r="2.8"/><circle cx="467.2" cy="785.1" r="2.8"/><circle cx="449.4" cy="788.4" r="2.8"/><circle cx="365.9" cy="770.5" r="2.8"/><circle cx="385.8" cy="771.5" r="2.8"/><circle cx="386.8" cy="791" r="2.8"/><circle cx="391.7" cy="789" r="2.8"/><circle cx="423.9" cy="791.8" r="2.8"/><circle cx="418.6" cy="797.8" r="2.8"/><circle cx="435.9" cy="799" r="2.8"/><circle cx="375.4" cy="801" r="2.8"/><circle cx="366.3" cy="794.4" r="2.8"/><circle cx="351" cy="795.4" r="2.8"/><circle cx="350" cy="790.4" r="2.8"/><circle cx="412" cy="803.3" r="2.8"/><circle cx="403.3" cy="801.4" r="2.8"/><circle cx="395.7" cy="806.9" r="2.8"/><circle cx="398.7" cy="814.3" r="2.8"/><circle cx="407.6" cy="810.3" r="2.8"/><circle cx="411.6" cy="814.3" r="2.8"/><circle cx="412.6" cy="819.2" r="2.8"/><circle cx="419.2" cy="808.9" r="2.8"/><circle cx="425.5" cy="809.7" r="2.8"/><circle cx="440.4" cy="817.2" r="2.8"/><circle cx="423.5" cy="828.2" r="2.8"/><circle cx="364.9" cy="811.3" r="2.8"/><circle cx="355" cy="812.3" r="2.8"/><circle cx="373.8" cy="814.3" r="2.8"/><circle cx="382.8" cy="828.8" r="2.8"/><circle cx="385.8" cy="831.2" r="2.8"/><circle cx="394.7" cy="835.5" r="2.8"/><circle cx="398.7" cy="838.1" r="2.8"/><circle cx="401.3" cy="832.8" r="2.8"/><circle cx="385.8" cy="839.1" r="2.8"/><circle cx="395.7" cy="845.1" r="2.8"/><circle cx="398.7" cy="849" r="2.8"/><circle cx="395.7" cy="852" r="2.8"/><circle cx="381.4" cy="844.1" r="2.8"/><circle cx="375.8" cy="853" r="2.8"/><circle cx="371.9" cy="852" r="2.8"/><circle cx="364.3" cy="853" r="2.8"/><circle cx="365.9" cy="846.1" r="2.8"/><circle cx="358.9" cy="835.1" r="2.8"/><circle cx="353" cy="839.1" r="2.8"/><circle cx="352" cy="849" r="2.8"/><circle cx="356" cy="857" r="2.8"/><circle cx="351" cy="863" r="2.8"/><circle cx="363.5" cy="864" r="2.8"/><circle cx="371.9" cy="868.5" r="2.8"/><circle cx="383.8" cy="863" r="2.8"/><circle cx="387.4" cy="861" r="2.8"/><circle cx="357.9" cy="874.9" r="2.8"/><circle cx="364.9" cy="887.8" r="2.8"/><circle cx="363.9" cy="891.8" r="2.8"/><circle cx="371.9" cy="909.7" r="2.8"/><circle cx="412.1" cy="697.2" r="2.8"/><circle cx="407.7" cy="809.4" r="2.8"/><circle cx="410.3" cy="812.8" r="2.8"/><circle cx="412" cy="816.3" r="2.8"/><circle cx="412" cy="819.7" r="2.8"/><circle cx="406.9" cy="814.5" r="2.8"/><circle cx="385.3" cy="831.8" r="2.8"/><circle cx="387" cy="837" r="2.8"/><circle cx="383.5" cy="840.4" r="2.8"/><circle cx="397.4" cy="835.3" r="2.8"/><circle cx="398.2" cy="839.6" r="2.8"/><circle cx="377.5" cy="853.4" r="2.8"/><circle cx="385.3" cy="862.9" r="2.8"/><circle cx="387" cy="865.5" r="2.8"/><circle cx="350.7" cy="862.9" r="2.8"/><circle cx="338.6" cy="843.9" r="2.8"/><circle cx="341.2" cy="850.8" r="2.8"/><circle cx="374.9" cy="850.8" r="2.8"/><circle cx="378.4" cy="845.6" r="2.8"/>
</g>
<line x1="220.1" y1="910.1" x2="471.7" y2="754.3" stroke="#000" stroke-width="1.7" stroke-dasharray="10.1,7.8"/>
<path d="M281.1 813V995.2M277.2 813H285M277.2 995.2H285M329 797.7V942.5M325.1 797.7H332.9M325.1 942.5H332.9M346.7 782.4V900.8M342.8 782.4H350.6M342.8 900.8H350.6M357.9 774.4V884.7M354 774.4H361.8M354 884.7H361.8M368.6 777.6V913.6M364.7 777.6H372.5M364.7 913.6H372.5M380.9 767.7V901.6M377 767.7H384.8M377 901.6H384.8M390.8 766.9V912M386.9 766.9H394.7M386.9 912H394.7M403.4 724.1V855.2M399.5 724.1H407.3M399.5 855.2H407.3M415.7 729.4V853.9M411.8 729.4H419.6M411.8 853.9H419.6M447.3 720.6V867.3M443.4 720.6H451.2M443.4 867.3H451.2" stroke="#000" stroke-width="2" fill="none"/>
<g fill="#000"><circle cx="281.1" cy="866" r="7.1"/><circle cx="329" cy="847.5" r="7.1"/><circle cx="346.7" cy="824.2" r="7.1"/><circle cx="357.9" cy="821.3" r="7.1"/><circle cx="368.6" cy="829" r="7.1"/><circle cx="380.9" cy="817.8" r="7.1"/><circle cx="390.8" cy="822.6" r="7.1"/><circle cx="403.4" cy="784.3" r="7.1"/><circle cx="415.7" cy="780.8" r="7.1"/><circle cx="447.3" cy="771.2" r="7.1"/></g>
<path d="M130.1 643.7H548.3V1038.6" stroke="#000" stroke-width="1.7" fill="none"/>
<path d="M130.1 642.9V1038.6H549.1" stroke="#000" stroke-width="2.2" fill="none"/>
<path d="M161.6 1038.6v-4.4M180 1038.6v-4.4M193 1038.6v-4.4M203.2 1038.6v-4.4M211.5 1038.6v-4.4M218.5 1038.6v-4.4M224.5 1038.6v-4.4M229.9 1038.6v-4.4M234.6 1038.6v-12.3M266.1 1038.6v-4.4M284.5 1038.6v-4.4M297.6 1038.6v-4.4M307.7 1038.6v-4.4M316 1038.6v-4.4M323 1038.6v-4.4M329.1 1038.6v-4.4M334.4 1038.6v-4.4M339.2 1038.6v-12.3M370.7 1038.6v-4.4M389.1 1038.6v-4.4M402.1 1038.6v-4.4M412.3 1038.6v-4.4M420.6 1038.6v-4.4M427.6 1038.6v-4.4M433.6 1038.6v-4.4M439 1038.6v-4.4M443.8 1038.6v-12.3M475.2 1038.6v-4.4M493.6 1038.6v-4.4M506.7 1038.6v-4.4M516.8 1038.6v-4.4M525.1 1038.6v-4.4M532.1 1038.6v-4.4M538.2 1038.6v-4.4M543.5 1038.6v-4.4M130.1 1022.5h4.4M130.1 1007.2h4.4M130.1 994.7h4.4M130.1 984.1h4.4M130.1 974.9h4.4M130.1 966.8h4.4M130.1 959.6h12.3M130.1 912.1h4.4M130.1 884.3h4.4M130.1 864.5h4.4M130.1 849.2h4.4M130.1 836.7h4.4M130.1 826.1h4.4M130.1 817h4.4M130.1 808.9h4.4M130.1 801.7h12.3M130.1 754.1h4.4M130.1 726.3h4.4M130.1 706.6h4.4M130.1 691.3h4.4M130.1 678.7h4.4M130.1 668.2h4.4M130.1 659h4.4M130.1 650.9h4.4M130.1 643.7h12.3" stroke="#000" stroke-width="1.75" fill="none"/>
<text x="130.1" y="1097.2" font-size="27.4" text-anchor="middle">10<tspan dy="-13" font-size="19.5">−3</tspan></text>
<text x="234.6" y="1097.2" font-size="27.4" text-anchor="middle">10<tspan dy="-13" font-size="19.5">−2</tspan></text>
<text x="339.2" y="1097.2" font-size="27.4" text-anchor="middle">10<tspan dy="-13" font-size="19.5">−1</tspan></text>
<text x="443.8" y="1097.2" font-size="27.4" text-anchor="middle">10<tspan dy="-13" font-size="19.5">0</tspan></text>
<text x="548.3" y="1097.2" font-size="27.4" text-anchor="middle">10<tspan dy="-13" font-size="19.5">1</tspan></text>
<text x="97.6" y="973.3" font-size="27.4" text-anchor="end">10<tspan dy="-13" font-size="19.5">−1</tspan></text>
<text x="97.6" y="815.4" font-size="27.4" text-anchor="end">10<tspan dy="-13" font-size="19.5">0</tspan></text>
<text x="97.6" y="657.4" font-size="27.4" text-anchor="end">10<tspan dy="-13" font-size="19.5">1</tspan></text>
<g fill="#c9c9c9">
<circle cx="794.5" cy="699.7" r="2.8"/><circle cx="863.2" cy="722" r="2.8"/><circle cx="865.7" cy="724.5" r="2.8"/><circle cx="831.4" cy="744.4" r="2.8"/><circle cx="720.6" cy="892.5" r="2.8"/><circle cx="743.3" cy="889.7" r="2.8"/><circle cx="781.5" cy="820.2" r="2.8"/><circle cx="781.5" cy="833.6" r="2.8"/><circle cx="781.5" cy="838.6" r="2.8"/><circle cx="781.5" cy="849.1" r="2.8"/><circle cx="781.5" cy="866" r="2.8"/><circle cx="781.5" cy="878.3" r="2.8"/><circle cx="789.7" cy="878.3" r="2.8"/><circle cx="794.5" cy="850.9" r="2.8"/><circle cx="794.5" cy="861" r="2.8"/><circle cx="804.9" cy="886.9" r="2.8"/><circle cx="794.5" cy="916.3" r="2.8"/><circle cx="820" cy="828.2" r="2.8"/><circle cx="820" cy="832.9" r="2.8"/><circle cx="826.4" cy="791.5" r="2.8"/><circle cx="826.4" cy="794.7" r="2.8"/><circle cx="840.7" cy="795.8" r="2.8"/><circle cx="840.7" cy="824.5" r="2.8"/><circle cx="840.7" cy="838.6" r="2.8"/><circle cx="826.4" cy="845" r="2.8"/><circle cx="826.4" cy="849.4" r="2.8"/><circle cx="831.8" cy="845" r="2.8"/><circle cx="836.2" cy="849.8" r="2.8"/><circle cx="826.4" cy="858.9" r="2.8"/><circle cx="836.2" cy="861" r="2.8"/><circle cx="826.4" cy="867.1" r="2.8"/><circle cx="826.4" cy="872.5" r="2.8"/><circle cx="831.2" cy="868.8" r="2.8"/><circle cx="836.2" cy="868.8" r="2.8"/><circle cx="844.8" cy="856.3" r="2.8"/><circle cx="848" cy="858.9" r="2.8"/><circle cx="848" cy="864.5" r="2.8"/><circle cx="826.4" cy="889.7" r="2.8"/><circle cx="831.4" cy="908.1" r="2.8"/><circle cx="851.9" cy="898.4" r="2.8"/><circle cx="851.9" cy="901.6" r="2.8"/><circle cx="851.9" cy="881.1" r="2.8"/><circle cx="854.5" cy="878.9" r="2.8"/><circle cx="860.6" cy="877.9" r="2.8"/><circle cx="860.6" cy="865.3" r="2.8"/><circle cx="860.6" cy="868.1" r="2.8"/><circle cx="863.2" cy="846.6" r="2.8"/><circle cx="865.7" cy="845" r="2.8"/><circle cx="858" cy="834.7" r="2.8"/><circle cx="863.2" cy="830.4" r="2.8"/><circle cx="865.7" cy="836.4" r="2.8"/><circle cx="858" cy="815.9" r="2.8"/><circle cx="858" cy="781.8" r="2.8"/><circle cx="863.2" cy="780.3" r="2.8"/><circle cx="867.9" cy="779" r="2.8"/><circle cx="867.9" cy="784.6" r="2.8"/><circle cx="854.9" cy="791.9" r="2.8"/><circle cx="869.6" cy="869.2" r="2.8"/><circle cx="869.6" cy="827.1" r="2.8"/><circle cx="863.2" cy="920" r="2.8"/><circle cx="871.8" cy="875.7" r="2.8"/><circle cx="851.9" cy="842.2" r="2.8"/><circle cx="851.9" cy="848.7" r="2.8"/><circle cx="935" cy="681.9" r="2.8"/><circle cx="884.9" cy="687.7" r="2.8"/><circle cx="905.8" cy="688.4" r="2.8"/><circle cx="958.3" cy="691.2" r="2.8"/><circle cx="949.9" cy="697.4" r="2.8"/><circle cx="925.7" cy="706.7" r="2.8"/><circle cx="932.4" cy="706.3" r="2.8"/><circle cx="962.8" cy="706.1" r="2.8"/><circle cx="901.5" cy="710.6" r="2.8"/><circle cx="887.9" cy="718.2" r="2.8"/><circle cx="864.2" cy="721.8" r="2.8"/><circle cx="865.9" cy="724.4" r="2.8"/><circle cx="914.3" cy="726.1" r="2.8"/><circle cx="896.1" cy="730.5" r="2.8"/><circle cx="906.9" cy="733.7" r="2.8"/><circle cx="896.1" cy="738.7" r="2.8"/><circle cx="927.9" cy="733.7" r="2.8"/><circle cx="981.4" cy="740.8" r="2.8"/><circle cx="950.1" cy="747.1" r="2.8"/><circle cx="959.8" cy="745.1" r="2.8"/><circle cx="892.2" cy="751.6" r="2.8"/><circle cx="899.8" cy="755.3" r="2.8"/><circle cx="924.6" cy="756.4" r="2.8"/><circle cx="975.4" cy="749.5" r="2.8"/><circle cx="966.7" cy="752.7" r="2.8"/><circle cx="958.1" cy="762.4" r="2.8"/><circle cx="963.1" cy="758.1" r="2.8"/><circle cx="957" cy="765" r="2.8"/><circle cx="993.7" cy="765" r="2.8"/><circle cx="991.6" cy="770.8" r="2.8"/><circle cx="984.7" cy="770.8" r="2.8"/><circle cx="978.6" cy="773.2" r="2.8"/><circle cx="1010.3" cy="773.6" r="2.8"/><circle cx="978.6" cy="782.9" r="2.8"/><circle cx="962.4" cy="779" r="2.8"/><circle cx="963.5" cy="782.3" r="2.8"/><circle cx="967.8" cy="776.9" r="2.8"/><circle cx="965.6" cy="786.6" r="2.8"/><circle cx="981.4" cy="803.9" r="2.8"/><circle cx="946.2" cy="765" r="2.8"/><circle cx="936.5" cy="767.2" r="2.8"/><circle cx="947.3" cy="772.6" r="2.8"/><circle cx="953.8" cy="781.2" r="2.8"/><circle cx="952.3" cy="788.3" r="2.8"/><circle cx="952.3" cy="797.4" r="2.8"/><circle cx="954.4" cy="805" r="2.8"/><circle cx="949.5" cy="803.9" r="2.8"/><circle cx="946.2" cy="799.6" r="2.8"/><circle cx="938.7" cy="793.1" r="2.8"/><circle cx="936.5" cy="798.5" r="2.8"/><circle cx="937.6" cy="805" r="2.8"/><circle cx="939.7" cy="811.4" r="2.8"/><circle cx="939.3" cy="816.8" r="2.8"/><circle cx="945.1" cy="821.2" r="2.8"/><circle cx="933.3" cy="819" r="2.8"/><circle cx="928.9" cy="811.4" r="2.8"/><circle cx="926.8" cy="819" r="2.8"/><circle cx="925.1" cy="825.5" r="2.8"/><circle cx="916" cy="818.6" r="2.8"/><circle cx="912.7" cy="820.1" r="2.8"/><circle cx="912.7" cy="827.6" r="2.8"/><circle cx="905.2" cy="821.2" r="2.8"/><circle cx="904.1" cy="827.6" r="2.8"/><circle cx="917.1" cy="769.3" r="2.8"/><circle cx="912.7" cy="781.2" r="2.8"/><circle cx="905.2" cy="786.6" r="2.8"/><circle cx="886.8" cy="794.2" r="2.8"/><circle cx="887.9" cy="799.6" r="2.8"/><circle cx="864.2" cy="780.1" r="2.8"/><circle cx="868" cy="779" r="2.8"/><circle cx="868.5" cy="783.4" r="2.8"/><circle cx="884.7" cy="819" r="2.8"/><circle cx="870.6" cy="826.6" r="2.8"/><circle cx="866.3" cy="836.3" r="2.8"/><circle cx="862" cy="830.9" r="2.8"/><circle cx="883.6" cy="835.2" r="2.8"/><circle cx="894.4" cy="829.8" r="2.8"/><circle cx="896.5" cy="836.3" r="2.8"/><circle cx="903" cy="832" r="2.8"/><circle cx="901.9" cy="840.6" r="2.8"/><circle cx="906.3" cy="838.4" r="2.8"/><circle cx="907.3" cy="844.9" r="2.8"/><circle cx="913.8" cy="834.1" r="2.8"/><circle cx="912.7" cy="842.7" r="2.8"/><circle cx="917.1" cy="838.4" r="2.8"/><circle cx="922.5" cy="834.1" r="2.8"/><circle cx="925.7" cy="837.4" r="2.8"/><circle cx="924.6" cy="842.7" r="2.8"/><circle cx="923.5" cy="847.1" r="2.8"/><circle cx="932.2" cy="841.7" r="2.8"/><circle cx="936.5" cy="843.8" r="2.8"/><circle cx="933.3" cy="829.8" r="2.8"/><circle cx="937.6" cy="829.8" r="2.8"/><circle cx="939.7" cy="832" r="2.8"/><circle cx="914.9" cy="849.2" r="2.8"/><circle cx="925.7" cy="850.3" r="2.8"/><circle cx="944.1" cy="850.3" r="2.8"/><circle cx="864.2" cy="846" r="2.8"/><circle cx="873.9" cy="847.1" r="2.8"/><circle cx="879.3" cy="847.1" r="2.8"/><circle cx="885.8" cy="848.1" r="2.8"/><circle cx="896.5" cy="847.1" r="2.8"/><circle cx="901.9" cy="851.4" r="2.8"/><circle cx="912.7" cy="855.7" r="2.8"/><circle cx="924.6" cy="858.9" r="2.8"/><circle cx="876" cy="858.9" r="2.8"/><circle cx="887.9" cy="857.9" r="2.8"/><circle cx="893.3" cy="863.3" r="2.8"/><circle cx="912.7" cy="864.3" r="2.8"/><circle cx="862" cy="865.4" r="2.8"/><circle cx="870.6" cy="868.7" r="2.8"/><circle cx="881.4" cy="869.7" r="2.8"/><circle cx="872.8" cy="876.2" r="2.8"/><circle cx="885.8" cy="874.7" r="2.8"/><circle cx="883.6" cy="879.5" r="2.8"/><circle cx="885.8" cy="882.7" r="2.8"/><circle cx="894.4" cy="874.1" r="2.8"/><circle cx="901.9" cy="880.5" r="2.8"/><circle cx="908.4" cy="871.9" r="2.8"/><circle cx="907.3" cy="887.7" r="2.8"/><circle cx="881.4" cy="892.4" r="2.8"/><circle cx="862" cy="918.3" r="2.8"/><circle cx="884.8" cy="820.6" r="2.8"/><circle cx="883.3" cy="835.1" r="2.8"/><circle cx="886.3" cy="848.1" r="2.8"/><circle cx="887.9" cy="857.4" r="2.8"/><circle cx="881.2" cy="868.9" r="2.8"/><circle cx="889.7" cy="836.3" r="2.8"/><circle cx="896.3" cy="825.4" r="2.8"/><circle cx="896.3" cy="833.3" r="2.8"/><circle cx="895.7" cy="839.3" r="2.8"/><circle cx="896.3" cy="844.7" r="2.8"/><circle cx="897.5" cy="850.8" r="2.8"/><circle cx="894.5" cy="857.4" r="2.8"/><circle cx="893.9" cy="863.5" r="2.8"/><circle cx="903" cy="827.8" r="2.8"/><circle cx="905.4" cy="836.3" r="2.8"/><circle cx="904.8" cy="842.3" r="2.8"/><circle cx="904.2" cy="847.8" r="2.8"/><circle cx="904.2" cy="852" r="2.8"/><circle cx="903.6" cy="862.3" r="2.8"/><circle cx="907.8" cy="820" r="2.8"/><circle cx="912" cy="827.8" r="2.8"/><circle cx="914.5" cy="834.5" r="2.8"/><circle cx="911.4" cy="839.9" r="2.8"/><circle cx="915.1" cy="849.6" r="2.8"/><circle cx="913.9" cy="855.6" r="2.8"/><circle cx="912.6" cy="864.7" r="2.8"/><circle cx="913.9" cy="820" r="2.8"/><circle cx="917.5" cy="820" r="2.8"/><circle cx="921.7" cy="818.7" r="2.8"/><circle cx="926" cy="813.9" r="2.8"/><circle cx="927.2" cy="821.8" r="2.8"/><circle cx="924.7" cy="827.2" r="2.8"/><circle cx="923.5" cy="833.9" r="2.8"/><circle cx="926" cy="837.5" r="2.8"/><circle cx="924.7" cy="842.9" r="2.8"/><circle cx="926" cy="850.2" r="2.8"/><circle cx="923.5" cy="854.4" r="2.8"/><circle cx="925.3" cy="858.9" r="2.8"/><circle cx="932.6" cy="842.3" r="2.8"/><circle cx="936.2" cy="844.1" r="2.8"/><circle cx="933.2" cy="829.6" r="2.8"/><circle cx="937.4" cy="829.6" r="2.8"/><circle cx="939.9" cy="833.3" r="2.8"/><circle cx="939.9" cy="816.9" r="2.8"/><circle cx="933.2" cy="819.3" r="2.8"/><circle cx="937.4" cy="807.9" r="2.8"/><circle cx="936.8" cy="801.2" r="2.8"/><circle cx="945.9" cy="821.2" r="2.8"/><circle cx="950.1" cy="804.2" r="2.8"/><circle cx="953.2" cy="805.4" r="2.8"/><circle cx="943.5" cy="850.2" r="2.8"/><circle cx="887.3" cy="801.2" r="2.8"/><circle cx="935.9" cy="792.6" r="2.8"/><circle cx="939.5" cy="796.3" r="2.8"/><circle cx="937.1" cy="799.9" r="2.8"/><circle cx="941.9" cy="801.1" r="2.8"/><circle cx="945.5" cy="806" r="2.8"/><circle cx="938.3" cy="807.2" r="2.8"/><circle cx="934.6" cy="767.3" r="2.8"/><circle cx="939.5" cy="769.7" r="2.8"/><circle cx="944.3" cy="772.1" r="2.8"/><circle cx="956.4" cy="763.6" r="2.8"/><circle cx="958.8" cy="767.3" r="2.8"/><circle cx="964.9" cy="776.9" r="2.8"/><circle cx="967.3" cy="784.2" r="2.8"/><circle cx="966.1" cy="789" r="2.8"/>
</g>
<line x1="720.5" y1="893.2" x2="1010.5" y2="748.7" stroke="#000" stroke-width="1.7" stroke-dasharray="10.1,7.8"/>
<path d="M810.4 782.7V871.8M806.5 782.7H814.3M806.5 871.8H814.3M852.2 777.7V884.8M848.3 777.7H856.1M848.3 884.8H856.1M875.3 766.9V854.8M871.4 766.9H879.2M871.4 854.8H879.2M891 760.9V860.3M887.1 760.9H894.9M887.1 860.3H894.9M899.8 770.2V873.3M895.9 770.2H903.7M895.9 873.3H903.7M909.3 760.6V860.8M905.4 760.6H913.2M905.4 860.8H913.2M920.1 756.4V880.8M916.2 756.4H924M916.2 880.8H924M931.3 728.8V824.5M927.4 728.8H935.2M927.4 824.5H935.2M944.1 731.1V864M940.2 731.1H948M940.2 864H948M972.4 711.1V862M968.5 711.1H976.3M968.5 862H976.3" stroke="#000" stroke-width="2" fill="none"/>
<g fill="#000"><circle cx="810.4" cy="827.2" r="7.1"/><circle cx="852.2" cy="827.2" r="7.1"/><circle cx="875.3" cy="811.5" r="7.1"/><circle cx="891" cy="812" r="7.1"/><circle cx="899.8" cy="813.5" r="7.1"/><circle cx="909.3" cy="809" r="7.1"/><circle cx="920.1" cy="805.2" r="7.1"/><circle cx="931.3" cy="778.9" r="7.1"/><circle cx="944.1" cy="782.9" r="7.1"/><circle cx="972.4" cy="760.9" r="7.1"/></g>
<path d="M661.7 644.6H1081.8V1041.2" stroke="#000" stroke-width="1.7" fill="none"/>
<path d="M661.7 643.8V1041.2H1082.6" stroke="#000" stroke-width="2.2" fill="none"/>
<path d="M693.3 1041.2v-4.4M711.8 1041.2v-4.4M724.9 1041.2v-4.4M735.1 1041.2v-4.4M743.4 1041.2v-4.4M750.5 1041.2v-4.4M756.5 1041.2v-4.4M761.9 1041.2v-4.4M766.7 1041.2v-12.3M798.3 1041.2v-4.4M816.8 1041.2v-4.4M830 1041.2v-4.4M840.1 1041.2v-4.4M848.5 1041.2v-4.4M855.5 1041.2v-4.4M861.6 1041.2v-4.4M866.9 1041.2v-4.4M871.8 1041.2v-12.3M903.4 1041.2v-4.4M921.9 1041.2v-4.4M935 1041.2v-4.4M945.2 1041.2v-4.4M953.5 1041.2v-4.4M960.5 1041.2v-4.4M966.6 1041.2v-4.4M972 1041.2v-4.4M976.8 1041.2v-12.3M1008.4 1041.2v-4.4M1026.9 1041.2v-4.4M1040 1041.2v-4.4M1050.2 1041.2v-4.4M1058.5 1041.2v-4.4M1065.5 1041.2v-4.4M1071.6 1041.2v-4.4M1077 1041.2v-4.4M661.7 1025h4.4M661.7 1009.6h4.4M661.7 997.1h4.4M661.7 986.5h4.4M661.7 977.3h4.4M661.7 969.1h4.4M661.7 961.9h12.3M661.7 914.1h4.4M661.7 886.2h4.4M661.7 866.4h4.4M661.7 851h4.4M661.7 838.4h4.4M661.7 827.8h4.4M661.7 818.6h4.4M661.7 810.5h4.4M661.7 803.2h12.3M661.7 755.5h4.4M661.7 727.5h4.4M661.7 707.7h4.4M661.7 692.4h4.4M661.7 679.8h4.4M661.7 669.2h4.4M661.7 660h4.4M661.7 651.9h4.4M661.7 644.6h12.3" stroke="#000" stroke-width="1.75" fill="none"/>
<text x="661.7" y="1099.8" font-size="27.4" text-anchor="middle">10<tspan dy="-13" font-size="19.5">−3</tspan></text>
<text x="766.7" y="1099.8" font-size="27.4" text-anchor="middle">10<tspan dy="-13" font-size="19.5">−2</tspan></text>
<text x="871.8" y="1099.8" font-size="27.4" text-anchor="middle">10<tspan dy="-13" font-size="19.5">−1</tspan></text>
<text x="976.8" y="1099.8" font-size="27.4" text-anchor="middle">10<tspan dy="-13" font-size="19.5">0</tspan></text>
<text x="1081.8" y="1099.8" font-size="27.4" text-anchor="middle">10<tspan dy="-13" font-size="19.5">1</tspan></text>
<text x="629.2" y="975.6" font-size="27.4" text-anchor="end">10<tspan dy="-13" font-size="19.5">−1</tspan></text>
<text x="629.2" y="816.9" font-size="27.4" text-anchor="end">10<tspan dy="-13" font-size="19.5">0</tspan></text>
<text x="629.2" y="658.3" font-size="27.4" text-anchor="end">10<tspan dy="-13" font-size="19.5">1</tspan></text>
<g fill="#c9c9c9">
<circle cx="1296.4" cy="760.7" r="2.8"/><circle cx="1346.3" cy="744.2" r="2.8"/><circle cx="1388.5" cy="736.6" r="2.8"/><circle cx="1408.5" cy="723.3" r="2.8"/><circle cx="1410.4" cy="721.8" r="2.8"/><circle cx="1437.5" cy="725.8" r="2.8"/><circle cx="1420.2" cy="746.1" r="2.8"/><circle cx="1418.5" cy="757.9" r="2.8"/><circle cx="1296.4" cy="812" r="2.8"/><circle cx="1296.4" cy="831" r="2.8"/><circle cx="1296.4" cy="839.2" r="2.8"/><circle cx="1296.4" cy="850" r="2.8"/><circle cx="1314.4" cy="842" r="2.8"/><circle cx="1314.4" cy="846.4" r="2.8"/><circle cx="1328.3" cy="842.4" r="2.8"/><circle cx="1338.2" cy="835" r="2.8"/><circle cx="1346.3" cy="836.3" r="2.8"/><circle cx="1346.3" cy="842.4" r="2.8"/><circle cx="1346.3" cy="800.8" r="2.8"/><circle cx="1353.8" cy="813.5" r="2.8"/><circle cx="1359.6" cy="826.8" r="2.8"/><circle cx="1359.6" cy="836.9" r="2.8"/><circle cx="1338.2" cy="866.3" r="2.8"/><circle cx="1346.3" cy="872.8" r="2.8"/><circle cx="1314.4" cy="909.8" r="2.8"/><circle cx="1374.3" cy="781.8" r="2.8"/><circle cx="1382.2" cy="825.5" r="2.8"/><circle cx="1388.5" cy="823" r="2.8"/><circle cx="1391.4" cy="825.9" r="2.8"/><circle cx="1397.1" cy="829.7" r="2.8"/><circle cx="1388.5" cy="845.8" r="2.8"/><circle cx="1397.1" cy="850" r="2.8"/><circle cx="1382.2" cy="875.2" r="2.8"/><circle cx="1399" cy="870.5" r="2.8"/><circle cx="1399" cy="873.3" r="2.8"/><circle cx="1403.7" cy="830.6" r="2.8"/><circle cx="1406.2" cy="834.4" r="2.8"/><circle cx="1403.7" cy="814.8" r="2.8"/><circle cx="1407.5" cy="812.6" r="2.8"/><circle cx="1406.2" cy="803.1" r="2.8"/><circle cx="1417.4" cy="837.3" r="2.8"/><circle cx="1415.5" cy="855.3" r="2.8"/><circle cx="1418.9" cy="826.2" r="2.8"/><circle cx="1421.8" cy="824.9" r="2.8"/><circle cx="1423.3" cy="817.3" r="2.8"/><circle cx="1425.2" cy="782.7" r="2.8"/><circle cx="1430.3" cy="794.5" r="2.8"/><circle cx="1424.6" cy="855.3" r="2.8"/><circle cx="1430.9" cy="862.9" r="2.8"/><circle cx="1431.2" cy="878.1" r="2.8"/><circle cx="1430.9" cy="882.8" r="2.8"/><circle cx="1429.7" cy="889.5" r="2.8"/><circle cx="1431.2" cy="841.1" r="2.8"/><circle cx="1427.5" cy="834.4" r="2.8"/><circle cx="1433.1" cy="834.4" r="2.8"/><circle cx="1435" cy="799.3" r="2.8"/><circle cx="1438.5" cy="772.7" r="2.8"/><circle cx="1437.9" cy="827.8" r="2.8"/><circle cx="1436.9" cy="846.8" r="2.8"/><circle cx="1436.9" cy="858.1" r="2.8"/><circle cx="1437.7" cy="725.6" r="2.8"/><circle cx="1459.6" cy="724.3" r="2.8"/><circle cx="1452" cy="730.3" r="2.8"/><circle cx="1533.7" cy="725.6" r="2.8"/><circle cx="1512.8" cy="741.9" r="2.8"/><circle cx="1476.3" cy="740" r="2.8"/><circle cx="1470.6" cy="744.2" r="2.8"/><circle cx="1525.7" cy="757.9" r="2.8"/><circle cx="1451.6" cy="759" r="2.8"/><circle cx="1455" cy="765.5" r="2.8"/><circle cx="1472.5" cy="766.6" r="2.8"/><circle cx="1470.6" cy="768.9" r="2.8"/><circle cx="1500.7" cy="767" r="2.8"/><circle cx="1546.6" cy="767" r="2.8"/><circle cx="1550.5" cy="774.2" r="2.8"/><circle cx="1556.5" cy="777.9" r="2.8"/><circle cx="1567.2" cy="790.4" r="2.8"/><circle cx="1516.6" cy="775.6" r="2.8"/><circle cx="1512.4" cy="777.5" r="2.8"/><circle cx="1507.7" cy="784.1" r="2.8"/><circle cx="1511.5" cy="792.1" r="2.8"/><circle cx="1524.8" cy="786" r="2.8"/><circle cx="1530.9" cy="802.6" r="2.8"/><circle cx="1519.5" cy="814" r="2.8"/><circle cx="1493.8" cy="788.3" r="2.8"/><circle cx="1486.2" cy="778" r="2.8"/><circle cx="1484.9" cy="791.7" r="2.8"/><circle cx="1485.8" cy="802.2" r="2.8"/><circle cx="1486.8" cy="804.1" r="2.8"/><circle cx="1483.9" cy="806" r="2.8"/><circle cx="1475.4" cy="807.9" r="2.8"/><circle cx="1476.3" cy="800.3" r="2.8"/><circle cx="1466.4" cy="777.5" r="2.8"/><circle cx="1468.7" cy="770.8" r="2.8"/><circle cx="1455.4" cy="776.5" r="2.8"/><circle cx="1449.7" cy="775.6" r="2.8"/><circle cx="1441.2" cy="781.3" r="2.8"/><circle cx="1439.3" cy="772.7" r="2.8"/><circle cx="1441.2" cy="789.8" r="2.8"/><circle cx="1430.3" cy="794.6" r="2.8"/><circle cx="1434.5" cy="798.4" r="2.8"/><circle cx="1461.1" cy="803.1" r="2.8"/><circle cx="1463" cy="815.5" r="2.8"/><circle cx="1450.7" cy="816.4" r="2.8"/><circle cx="1453.5" cy="822.1" r="2.8"/><circle cx="1460.2" cy="824" r="2.8"/><circle cx="1464" cy="824" r="2.8"/><circle cx="1473.5" cy="825" r="2.8"/><circle cx="1476.3" cy="825" r="2.8"/><circle cx="1488.7" cy="823.5" r="2.8"/><circle cx="1490.6" cy="823.1" r="2.8"/><circle cx="1476.3" cy="832.6" r="2.8"/><circle cx="1466.8" cy="832.6" r="2.8"/><circle cx="1467.2" cy="835.5" r="2.8"/><circle cx="1451.6" cy="827.8" r="2.8"/><circle cx="1442.1" cy="829.7" r="2.8"/><circle cx="1439.3" cy="825" r="2.8"/><circle cx="1432.6" cy="833.6" r="2.8"/><circle cx="1438.3" cy="837.4" r="2.8"/><circle cx="1445.5" cy="836.4" r="2.8"/><circle cx="1450.7" cy="841.2" r="2.8"/><circle cx="1432.2" cy="841.2" r="2.8"/><circle cx="1430.7" cy="845.9" r="2.8"/><circle cx="1436.8" cy="848.8" r="2.8"/><circle cx="1444" cy="851" r="2.8"/><circle cx="1464.9" cy="852.9" r="2.8"/><circle cx="1484.3" cy="856.7" r="2.8"/><circle cx="1430.7" cy="863" r="2.8"/><circle cx="1437.9" cy="858.6" r="2.8"/><circle cx="1453.1" cy="866.2" r="2.8"/><circle cx="1447.4" cy="870" r="2.8"/><circle cx="1431.1" cy="878.2" r="2.8"/><circle cx="1431.1" cy="882.6" r="2.8"/><circle cx="1429.8" cy="889.6" r="2.8"/><circle cx="1466.8" cy="895.3" r="2.8"/><circle cx="1430.9" cy="690.7" r="2.8"/><circle cx="1480.2" cy="697.7" r="2.8"/>
</g>
<line x1="1295.8" y1="835.6" x2="1566.9" y2="765.9" stroke="#000" stroke-width="1.7" stroke-dasharray="10.1,7.8"/>
<path d="M1319 783.5V941M1315.1 783.5H1322.9M1315.1 941H1322.9M1379.1 766.2V878.1M1375.2 766.2H1383M1375.2 878.1H1383M1412.2 749.4V846M1408.3 749.4H1416.1M1408.3 846H1416.1M1427.9 764V858.8M1424 764H1431.8M1424 858.8H1431.8M1438 754.6V878.8M1434.1 754.6H1441.9M1434.1 878.8H1441.9M1447.9 752.8V866.9M1444 752.8H1451.8M1444 866.9H1451.8M1457.7 740.4V911.5M1453.8 740.4H1461.6M1453.8 911.5H1461.6M1468.7 737.7V865.5M1464.8 737.7H1472.6M1464.8 865.5H1472.6M1480.4 738.6V870.2M1476.5 738.6H1484.3M1476.5 870.2H1484.3M1527.6 725.2V890.9M1523.7 725.2H1531.5M1523.7 890.9H1531.5" stroke="#000" stroke-width="2" fill="none"/>
<g fill="#000"><circle cx="1319" cy="830.7" r="7.1"/><circle cx="1379.1" cy="812.3" r="7.1"/><circle cx="1412.2" cy="792.1" r="7.1"/><circle cx="1427.9" cy="809.4" r="7.1"/><circle cx="1438" cy="807.3" r="7.1"/><circle cx="1447.9" cy="801.5" r="7.1"/><circle cx="1457.7" cy="790.9" r="7.1"/><circle cx="1468.7" cy="794.3" r="7.1"/><circle cx="1480.4" cy="784.2" r="7.1"/><circle cx="1527.6" cy="777" r="7.1"/></g>
<path d="M1194.8 644.7H1616.5V1043" stroke="#000" stroke-width="1.7" fill="none"/>
<path d="M1194.8 643.9V1043H1617.3" stroke="#000" stroke-width="2.2" fill="none"/>
<path d="M1226.5 1043v-4.4M1245.1 1043v-4.4M1258.3 1043v-4.4M1268.5 1043v-4.4M1276.8 1043v-4.4M1283.9 1043v-4.4M1290 1043v-4.4M1295.4 1043v-4.4M1300.2 1043v-12.3M1332 1043v-4.4M1350.5 1043v-4.4M1363.7 1043v-4.4M1373.9 1043v-4.4M1382.3 1043v-4.4M1389.3 1043v-4.4M1395.4 1043v-4.4M1400.8 1043v-4.4M1405.7 1043v-12.3M1437.4 1043v-4.4M1456 1043v-4.4M1469.1 1043v-4.4M1479.3 1043v-4.4M1487.7 1043v-4.4M1494.7 1043v-4.4M1500.9 1043v-4.4M1506.3 1043v-4.4M1511.1 1043v-12.3M1542.8 1043v-4.4M1561.4 1043v-4.4M1574.5 1043v-4.4M1584.8 1043v-4.4M1593.1 1043v-4.4M1600.2 1043v-4.4M1606.3 1043v-4.4M1611.7 1043v-4.4M1194.8 1026.7h4.4M1194.8 1011.3h4.4M1194.8 998.7h4.4M1194.8 988h4.4M1194.8 978.8h4.4M1194.8 970.6h4.4M1194.8 963.3h12.3M1194.8 915.4h4.4M1194.8 887.3h4.4M1194.8 867.4h4.4M1194.8 852h4.4M1194.8 839.4h4.4M1194.8 828.7h4.4M1194.8 819.5h4.4M1194.8 811.3h4.4M1194.8 804h12.3M1194.8 756.1h4.4M1194.8 728h4.4M1194.8 708.1h4.4M1194.8 692.7h4.4M1194.8 680h4.4M1194.8 669.4h4.4M1194.8 660.1h4.4M1194.8 652h4.4M1194.8 644.7h12.3" stroke="#000" stroke-width="1.75" fill="none"/>
<text x="1194.8" y="1101.6" font-size="27.4" text-anchor="middle">10<tspan dy="-13" font-size="19.5">−3</tspan></text>
<text x="1300.2" y="1101.6" font-size="27.4" text-anchor="middle">10<tspan dy="-13" font-size="19.5">−2</tspan></text>
<text x="1405.7" y="1101.6" font-size="27.4" text-anchor="middle">10<tspan dy="-13" font-size="19.5">−1</tspan></text>
<text x="1511.1" y="1101.6" font-size="27.4" text-anchor="middle">10<tspan dy="-13" font-size="19.5">0</tspan></text>
<text x="1616.5" y="1101.6" font-size="27.4" text-anchor="middle">10<tspan dy="-13" font-size="19.5">1</tspan></text>
<text x="1162.3" y="977" font-size="27.4" text-anchor="end">10<tspan dy="-13" font-size="19.5">−1</tspan></text>
<text x="1162.3" y="817.7" font-size="27.4" text-anchor="end">10<tspan dy="-13" font-size="19.5">0</tspan></text>
<text x="1162.3" y="658.4" font-size="27.4" text-anchor="end">10<tspan dy="-13" font-size="19.5">1</tspan></text>
<g stroke="#000" stroke-width="0.7"><text x="150.08" y="26.2" font-size="32.5" textLength="228.29" lengthAdjust="spacingAndGlyphs">(A1) 1991-2000</text><text x="687.78" y="25.4" font-size="32.5" textLength="228.39" lengthAdjust="spacingAndGlyphs">(A2) 2001-2010</text><text x="1218.46" y="25.4" font-size="32.5" textLength="228.31" lengthAdjust="spacingAndGlyphs">(A3) 2011-2016</text><text x="150.79" y="634.7" font-size="32.5" textLength="227.28" lengthAdjust="spacingAndGlyphs">(B1) 1991-2000</text><text x="688.49" y="634.7" font-size="32.5" textLength="226.57" lengthAdjust="spacingAndGlyphs">(B2) 2001-2010</text><text x="1218.46" y="634.7" font-size="32.5" textLength="228.31" lengthAdjust="spacingAndGlyphs">(B3) 2011-2016</text><text x="151.10" y="84.8" font-size="32.5" textLength="146.88" lengthAdjust="spacingAndGlyphs">y = 4059 x</text><text x="304.80" y="74.2" font-size="21.5" textLength="41.45" lengthAdjust="spacingAndGlyphs">0.43</text><text x="355.33" y="84.8" font-size="32.5" textLength="9.20" lengthAdjust="spacingAndGlyphs">(</text><text x="365.55" y="84.8" font-size="32.5" font-style="italic" stroke-width="1.1" textLength="19.96" lengthAdjust="spacingAndGlyphs">R</text><text x="386.80" y="74.2" font-size="21.5" stroke-width="0.8" textLength="10.77" lengthAdjust="spacingAndGlyphs">2</text><text x="398.00" y="84.8" font-size="32.5" textLength="93.27" lengthAdjust="spacingAndGlyphs">=0.61)</text><text x="687.40" y="83.7" font-size="32.5" textLength="146.48" lengthAdjust="spacingAndGlyphs">y = 2651 x</text><text x="841.60" y="73.1" font-size="21.5" textLength="40.84" lengthAdjust="spacingAndGlyphs">0.33</text><text x="890.82" y="83.7" font-size="32.5" textLength="9.20" lengthAdjust="spacingAndGlyphs">(</text><text x="901.60" y="83.7" font-size="32.5" font-style="italic" stroke-width="1.1" textLength="19.96" lengthAdjust="spacingAndGlyphs">R</text><text x="922.60" y="73.1" font-size="21.5" stroke-width="0.8" textLength="10.77" lengthAdjust="spacingAndGlyphs">2</text><text x="934.09" y="83.7" font-size="32.5" textLength="93.79" lengthAdjust="spacingAndGlyphs">=0.63)</text><text x="1219.80" y="83.7" font-size="32.5" textLength="146.38" lengthAdjust="spacingAndGlyphs">y = 1746 x</text><text x="1373.30" y="73.1" font-size="21.5" textLength="41.55" lengthAdjust="spacingAndGlyphs">0.18</text><text x="1422.42" y="83.7" font-size="32.5" textLength="9.20" lengthAdjust="spacingAndGlyphs">(</text><text x="1434.00" y="83.7" font-size="32.5" font-style="italic" stroke-width="1.1" textLength="19.96" lengthAdjust="spacingAndGlyphs">R</text><text x="1454.90" y="73.1" font-size="21.5" stroke-width="0.8" textLength="10.77" lengthAdjust="spacingAndGlyphs">2</text><text x="1466.40" y="83.7" font-size="32.5" textLength="92.65" lengthAdjust="spacingAndGlyphs">=0.70)</text><text x="151.60" y="689.3" font-size="32.5" textLength="135.94" lengthAdjust="spacingAndGlyphs">y = 1.55 x</text><text x="296.30" y="678.7" font-size="21.5" textLength="41.76" lengthAdjust="spacingAndGlyphs">0.41</text><text x="346.13" y="689.3" font-size="32.5" textLength="9.20" lengthAdjust="spacingAndGlyphs">(</text><text x="357.70" y="689.3" font-size="32.5" font-style="italic" stroke-width="1.1" textLength="19.96" lengthAdjust="spacingAndGlyphs">R</text><text x="378.60" y="678.7" font-size="21.5" stroke-width="0.8" textLength="10.77" lengthAdjust="spacingAndGlyphs">2</text><text x="388.99" y="689.3" font-size="32.5" textLength="93.79" lengthAdjust="spacingAndGlyphs">=0.76)</text><text x="688.10" y="1001.7" font-size="32.5" textLength="136.43" lengthAdjust="spacingAndGlyphs">y = 1.73 x</text><text x="832.80" y="991.1" font-size="21.5" textLength="41.55" lengthAdjust="spacingAndGlyphs">0.33</text><text x="881.52" y="1001.7" font-size="32.5" textLength="9.20" lengthAdjust="spacingAndGlyphs">(</text><text x="892.40" y="1001.7" font-size="32.5" font-style="italic" stroke-width="1.1" textLength="21.03" lengthAdjust="spacingAndGlyphs">R</text><text x="916.10" y="991.1" font-size="21.5" stroke-width="0.8" textLength="10.77" lengthAdjust="spacingAndGlyphs">2</text><text x="924.79" y="1001.7" font-size="32.5" textLength="93.79" lengthAdjust="spacingAndGlyphs">=0.61)</text><text x="1220.50" y="1001.7" font-size="32.5" textLength="137.43" lengthAdjust="spacingAndGlyphs">y = 1.41 x</text><text x="1365.10" y="991.1" font-size="21.5" textLength="41.55" lengthAdjust="spacingAndGlyphs">0.17</text><text x="1414.32" y="1001.7" font-size="32.5" textLength="9.20" lengthAdjust="spacingAndGlyphs">(</text><text x="1425.85" y="1001.7" font-size="32.5" font-style="italic" stroke-width="1.1" textLength="19.96" lengthAdjust="spacingAndGlyphs">R</text><text x="1446.80" y="991.1" font-size="21.5" stroke-width="0.8" textLength="10.77" lengthAdjust="spacingAndGlyphs">2</text><text x="1457.09" y="1001.7" font-size="32.5" textLength="93.79" lengthAdjust="spacingAndGlyphs">=0.71)</text><text x="780.48" y="542.2" font-size="35" font-style="italic" textLength="24.95" lengthAdjust="spacingAndGlyphs">Q</text><text x="814.25" y="542.2" font-size="35" textLength="9.91" lengthAdjust="spacingAndGlyphs">(</text><text x="827.08" y="542.2" font-size="35" textLength="61.88" lengthAdjust="spacingAndGlyphs">mm</text><text x="905.04" y="542.2" font-size="35" textLength="54.22" lengthAdjust="spacingAndGlyphs">day</text><text x="962.70" y="542.2" font-size="35" textLength="9.91" lengthAdjust="spacingAndGlyphs">)</text><text x="889.70" y="547.8" font-size="44.3" stroke-width="0.2" textLength="14.16" lengthAdjust="spacingAndGlyphs">/</text><text x="781.38" y="1149.5" font-size="35" font-style="italic" textLength="24.95" lengthAdjust="spacingAndGlyphs">Q</text><text x="815.15" y="1149.5" font-size="35" textLength="9.91" lengthAdjust="spacingAndGlyphs">(</text><text x="827.98" y="1149.5" font-size="35" textLength="61.88" lengthAdjust="spacingAndGlyphs">mm</text><text x="905.94" y="1149.5" font-size="35" textLength="54.22" lengthAdjust="spacingAndGlyphs">day</text><text x="963.60" y="1149.5" font-size="35" textLength="9.91" lengthAdjust="spacingAndGlyphs">)</text><text x="890.60" y="1155.1" font-size="44.3" stroke-width="0.2" textLength="14.16" lengthAdjust="spacingAndGlyphs">/</text></g>
<g stroke="#000" stroke-width="0.7" transform="translate(30.1,333.0) rotate(-90)"><text x="-0.21" y="-11.4" font-size="24.5" textLength="24.75" lengthAdjust="spacingAndGlyphs">90</text><text x="24.77" y="0" font-size="35.5" textLength="20.13" lengthAdjust="spacingAndGlyphs">S</text><text x="43.34" y="0" font-size="35.5" textLength="12.77" lengthAdjust="spacingAndGlyphs">r</text><text x="66.40" y="0" font-size="35.5" textLength="10.05" lengthAdjust="spacingAndGlyphs">(</text><text x="78.73" y="0" font-size="35.5" textLength="20.32" lengthAdjust="spacingAndGlyphs">B</text><text x="102.97" y="0" font-size="35.5" textLength="16.79" lengthAdjust="spacingAndGlyphs">q</text><text x="119.58" y="6.4" font-size="46.8" stroke-width="0.2" textLength="14.97" lengthAdjust="spacingAndGlyphs">/</text><text x="135.41" y="0" font-size="35.5" textLength="29.46" lengthAdjust="spacingAndGlyphs">m</text><text x="166.55" y="-12.1" font-size="24.5" textLength="11.59" lengthAdjust="spacingAndGlyphs">3</text><text x="181.20" y="0" font-size="35.5" textLength="10.05" lengthAdjust="spacingAndGlyphs">)</text></g>
<g stroke="#000" stroke-width="0.7" transform="translate(31.6,904.6) rotate(-90)"><text x="-1.25" y="-11.8" font-size="24.5" textLength="25.80" lengthAdjust="spacingAndGlyphs">90</text><text x="25.02" y="0" font-size="35.5" textLength="20.13" lengthAdjust="spacingAndGlyphs">S</text><text x="43.46" y="0" font-size="35.5" textLength="12.66" lengthAdjust="spacingAndGlyphs">r</text><text x="57.37" y="5" font-size="45.7" stroke-width="0.2" textLength="14.61" lengthAdjust="spacingAndGlyphs">/</text><text x="71.29" y="0" font-size="35.5" font-style="italic" textLength="21.90" lengthAdjust="spacingAndGlyphs">C</text><text x="92.49" y="9.5" font-size="24.5" textLength="29.00" lengthAdjust="spacingAndGlyphs">ref</text></g>
</svg></body></html>
